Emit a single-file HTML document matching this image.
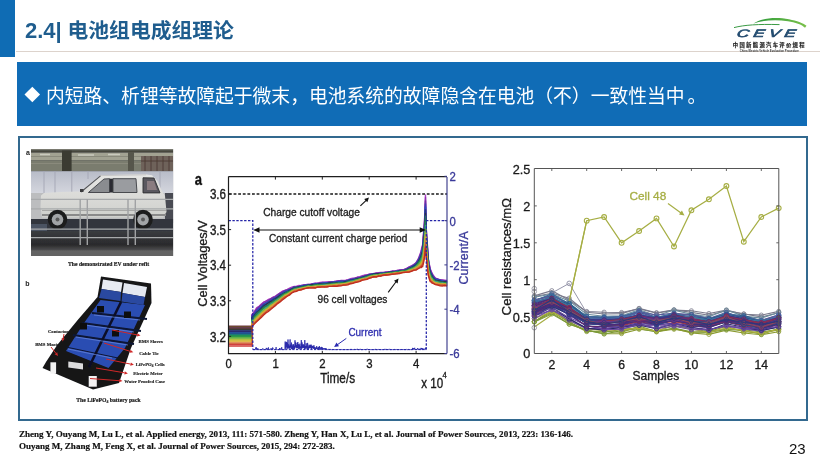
<!DOCTYPE html>
<html><head><meta charset="utf-8">
<style>
*{margin:0;padding:0;box-sizing:border-box}
html,body{width:820px;height:461px;overflow:hidden;background:#fff}
body{position:relative;font-family:"Liberation Sans","Noto Sans CJK SC",sans-serif}
.abs{position:absolute}
#lbar{left:0;top:0;width:15px;height:57px;background:#0f6cb4}
#hline{left:16px;top:51px;width:804px;height:1px;background:#ddd3cc}
#title{left:25px;top:16px;font-size:20.8px;font-weight:bold;color:#1f5d8e;white-space:nowrap;line-height:30px;font-family:"Liberation Sans","Noto Sans CJK SC",sans-serif}
#title .n{font-size:22px}
#band{left:17px;top:62px;width:790px;height:64px;background:#106cb6}
#dia{left:27px;top:89.2px;width:10.6px;height:10.6px;background:#fff;transform:rotate(45deg)}
#bandtxt{left:46px;top:83px;font-size:18.8px;color:#fff;white-space:nowrap;line-height:28px;font-family:"Liberation Sans","Noto Sans CJK SC",sans-serif}
#box{left:18px;top:136.4px;width:790px;height:284.6px;border:2px solid #33698f;background:#fff}
#cite{left:19px;top:429px;font-family:"Liberation Serif",serif;font-weight:bold;font-size:9.05px;line-height:11.8px;color:#111;white-space:nowrap;-webkit-text-stroke:0.2px #111}
#pnum{left:789px;top:440.5px;font-size:15px;color:#111;line-height:16px}
svg{position:absolute;left:0;top:0}
svg{font-family:"Liberation Sans",sans-serif}
</style></head>
<body>
<div class="abs" id="lbar"></div>
<div class="abs" id="hline"></div>
<div class="abs" id="title"><span class="n">2.4|</span> 电池组电成组理论</div>
<div class="abs" id="band"></div>
<div class="abs" id="dia"></div>
<div class="abs" id="bandtxt">内短路、析锂等故障起于微末，电池系统的故障隐含在电池（不）一致性当中<span style="position:relative;left:3px">。</span></div>
<div class="abs" id="box"></div>
<svg width="820" height="461" viewBox="0 0 820 461">
<defs>
<linearGradient id="lg1" x1="0" y1="0" x2="1" y2="0"><stop offset="0" stop-color="#2a9a3a"/><stop offset="1" stop-color="#7ac04a"/></linearGradient>
<linearGradient id="lg2" x1="0" y1="0" x2="0" y2="1"><stop offset="0" stop-color="#2a6a8a"/><stop offset="1" stop-color="#1a3a6a"/></linearGradient>
</defs>
<path d="M734 27.6 C744 25 758 24 779.5 24.6" stroke="#3a9a44" stroke-width="1" fill="none"/>
<path d="M753.5 23.5 C761 18.5 775 16.2 789 19.3 C797 21 803 23 806.5 25.8 C806 26.5 805.5 27.2 805 27.8 C802 24.5 795 22.3 788 21.2 C776 19.5 764 20 753.5 23.5 Z" fill="url(#lg1)"/>
<text transform="translate(736.3 36.9) skewX(-12) scale(1.58 1)" font-family="Liberation Sans, sans-serif" font-style="italic" font-weight="normal" font-size="10.8" letter-spacing="2.6" fill="url(#lg2)" stroke="#234a6c" stroke-width="0.6">CEVE</text>
<text x="732.8" y="46.7" font-family="Liberation Sans, Noto Sans CJK SC, sans-serif" font-weight="bold" font-size="5.3" letter-spacing="1.35" fill="#1a1a1a" stroke="#1a1a1a" stroke-width="0.15">中国新能源汽车评价规程</text>
<text x="739.8" y="51.6" font-family="Liberation Sans, sans-serif" font-weight="bold" font-size="2.7" fill="#333" textLength="59" lengthAdjust="spacingAndGlyphs">China Electric Vehicle Evaluation Procedure</text>

<defs>
<filter id="bl1" x="-5%" y="-5%" width="110%" height="110%"><feGaussianBlur stdDeviation="0.6"/></filter>
<clipPath id="carclip"><rect x="31" y="149" width="142.3" height="107"/></clipPath>
<linearGradient id="ceil" x1="0" y1="0" x2="0" y2="1"><stop offset="0" stop-color="#55554a"/><stop offset="0.35" stop-color="#9a9a8c"/><stop offset="0.6" stop-color="#6a6a5e"/><stop offset="1" stop-color="#7e8078"/></linearGradient>
<linearGradient id="wall" x1="0" y1="0" x2="0" y2="1"><stop offset="0" stop-color="#b8bcc8"/><stop offset="1" stop-color="#d4d6de"/></linearGradient>
<linearGradient id="floor" x1="0" y1="0" x2="0" y2="1"><stop offset="0" stop-color="#3a3c40"/><stop offset="0.7" stop-color="#2a2a2c"/><stop offset="1" stop-color="#555"/></linearGradient>
<linearGradient id="body" x1="0" y1="0" x2="0" y2="1"><stop offset="0" stop-color="#e6e6e4"/><stop offset="1" stop-color="#cfd0cc"/></linearGradient>
</defs>
<g clip-path="url(#carclip)" filter="url(#bl1)">
<rect x="31" y="149" width="142.3" height="107" fill="#34373c"/>
<rect x="31" y="149" width="142.3" height="1.6" fill="#7a7a70"/>
<rect x="31" y="150.6" width="142.3" height="2" fill="#46463e"/>
<rect x="31" y="152.6" width="142.3" height="7.6" fill="#a2a292"/>
<rect x="31" y="160.2" width="142.3" height="11" fill="#7a7c6e"/>
<path d="M31 156.5 H173 M31 163.5 H173" stroke="#8a8a7c" stroke-width="1"/>
<path d="M40 154.5 h10 M78 155 h16 M108 154.5 h12" stroke="#cacabe" stroke-width="1.4"/>
<rect x="62" y="150.5" width="9.6" height="20.7" fill="#3a3a32"/>
<rect x="128" y="152" width="6" height="19" fill="#56564c"/>
<rect x="141" y="156" width="32" height="15.2" fill="#6e625a"/>
<path d="M145 156v15M151 156v15M157 156v15M163 156v15M169 156v15M141 161h32" stroke="#4a3a34" stroke-width="0.9"/>
<rect x="31" y="171.2" width="142.3" height="22" fill="url(#wall)"/>
<path d="M44 171v22M55 171v22M71.8 171v22M88 171v8M160 171v22" stroke="#a4a6b4" stroke-width="0.9"/>
<rect x="31" y="193" width="142.3" height="26" fill="#bcbdbf"/>
<rect x="165" y="193" width="8.3" height="30" fill="#4a4c52"/>
<rect x="31" y="219" width="142.3" height="12" fill="#33363c"/>
<rect x="31" y="224" width="16" height="16" fill="#4c5262"/>
<rect x="31" y="231" width="142.3" height="20" fill="url(#floor)"/>
<rect x="31" y="250.5" width="142.3" height="5.5" fill="#646464"/>
<!-- car body -->
<path d="M41 195.5 L44 193 L60 192 L80 191.5 L100.5 175.2 L145 174.3 L152 175.2 L157.5 181 L161.5 190 L165 196 L166.5 212 L163 217.5 L42 217.5 L40.5 207 Z" fill="url(#body)"/>
<path d="M100 175.6 L146 174.8" stroke="#c8c8c8" stroke-width="1"/>
<path d="M81 192 L100.5 175.8" stroke="#505258" stroke-width="1.1"/>
<path d="M88.4 192.5 L104 179 L109.6 178.7 L109.6 192.5 Z" fill="#8a8c90" stroke="#3c3e44" stroke-width="0.9"/>
<rect x="109.6" y="178.7" width="3.4" height="13.8" fill="#2c2c30"/>
<path d="M113 178.7 L136 178.7 L137 192.5 L113 192.5 Z" fill="#9a9ca0" stroke="#3c3e44" stroke-width="0.9"/>
<path d="M143 177.8 L154 178 L160 192.9 L143 192.9 Z" fill="#5a585e" stroke="#2c2c30" stroke-width="0.9"/>
<path d="M147 181 L154 181 L157 190 L147 190 Z" fill="#8a7c80"/>
<rect x="80" y="189" width="3.5" height="3" fill="#3a3a3e"/>
<path d="M42 210.5 L166 210.5" stroke="#a8a8a6" stroke-width="1.2"/>
<path d="M42 215 L166 215" stroke="#8a8a8a" stroke-width="2.2"/>
<!-- wheels -->
<circle cx="57.5" cy="219.6" r="9.8" fill="#1c1c1e"/>
<circle cx="57.5" cy="219.6" r="5.8" fill="#a2a4a6"/>
<circle cx="57.5" cy="219.6" r="2" fill="#5a5a5a"/>
<circle cx="143" cy="219.6" r="9.8" fill="#1c1c1e"/>
<circle cx="143" cy="219.6" r="5.8" fill="#a2a4a6"/>
<circle cx="143" cy="219.6" r="2" fill="#5a5a5a"/>
<!-- railing -->
<path d="M31 199.3 H173.3 M31 208.9 H173.3 M31 229.2 H173.3 M31 237.6 H173.3" stroke="#a8aaac" stroke-width="1.2"/>
<path d="M80.2 199 V245 M87.3 199 V245 M128 199 V245 M135.3 199 V245" stroke="#a0a2a4" stroke-width="1.4"/>
</g>
<text x="108.6" y="266" font-family="Liberation Serif, serif" font-weight="bold" font-size="5.7" text-anchor="middle" fill="#1a1a1a" stroke="#1a1a1a" stroke-width="0.18">The demonstrated EV under refit</text>
<text x="26" y="154.9" font-family="Liberation Sans, sans-serif" font-weight="bold" font-size="7" fill="#222">a</text>
<text x="25.2" y="285.8" font-family="Liberation Sans, sans-serif" font-weight="bold" font-size="7" fill="#222">b</text>
<!-- battery pack -->
<g filter="url(#bl1)">
<path d="M101 276.5 L151 283.5 L151.5 303 L131 348 L119 383 L93 389.5 L42.5 368 L46 362 L57.2 345 L77.7 320 L97.5 297 Z" fill="#141519"/>
<path d="M100.5 300 L145 305 L125 348 L108.5 368 L66 351 L84 323 Z" fill="#2c4eb2"/>
<path d="M103 279.5 L122.5 282.5 L121 292 L101.5 289 Z" fill="#e8ebf2"/>
<path d="M124 283 L147 287 L145 297 L122.5 293 Z" fill="#e4e8f0"/>
<path d="M101.5 289 L121 292 L120.5 301 L99 298 Z M122.5 293 L145 297 L143.5 305 L121.5 301.5 Z" fill="#2a48a0"/>
<path d="M92 313 L147 319 M82 323 L141 331 M73 335 L134 344" stroke="#0e1634" stroke-width="1.8"/>
<path d="M66 347 L118 358" stroke="#0e1634" stroke-width="1"/>
<path d="M121 302 L89 367" stroke="#0a1028" stroke-width="2.6"/>
<path d="M94 315 L140 320 M85 325 L134 332 M76 337 L128 345 M68 349 L112 358" stroke="#6a8ae0" stroke-width="0.7"/>
<rect x="97" y="306" width="7" height="6.5" fill="#0e0e10"/>
<rect x="124" y="311.5" width="7" height="6.5" fill="#0e0e10"/>
<rect x="80" y="323" width="7" height="6.5" fill="#0e0e10"/>
<rect x="112" y="330" width="7" height="6.5" fill="#0e0e10"/>
<path d="M50.4 362.3 L56.1 362.3 L56.1 373.7 L50.4 373.7 Z" fill="#f2f2f2"/>
<path d="M88.7 376 L96.8 376 L96.8 386.7 L88.7 386.7 Z" fill="#f2f2f2"/>
<path d="M68.3 361.5 L83 363.5 L83 369.6 L68.3 367.6 Z" fill="#dcdcdc"/>
</g>
<g stroke="#d02828" stroke-width="1" fill="none"><line x1="64.0" y1="334.0" x2="63.2" y2="338.2"/><path d="M62.5 341.5 L61.6 337.9 L64.7 338.5 Z" fill="#d02828" stroke="none"/><line x1="51.0" y1="347.0" x2="55.9" y2="353.3"/><path d="M58.0 356.0 L54.6 354.3 L57.2 352.3 Z" fill="#d02828" stroke="none"/><line x1="112.0" y1="330.0" x2="137.2" y2="334.9"/><path d="M140.5 335.5 L136.9 336.4 L137.5 333.3 Z" fill="#d02828" stroke="none"/><line x1="104.0" y1="343.0" x2="130.1" y2="351.3"/><path d="M133.3 352.3 L129.6 352.8 L130.5 349.7 Z" fill="#d02828" stroke="none"/><line x1="106.0" y1="359.0" x2="130.6" y2="364.1"/><path d="M133.9 364.8 L130.2 365.7 L130.9 362.5 Z" fill="#d02828" stroke="none"/><line x1="96.0" y1="368.0" x2="124.5" y2="372.8"/><path d="M127.9 373.4 L124.3 374.4 L124.8 371.3 Z" fill="#d02828" stroke="none"/><line x1="90.0" y1="378.5" x2="119.1" y2="380.7"/><path d="M122.5 381.0 L119.0 382.3 L119.2 379.1 Z" fill="#d02828" stroke="none"/></g>
<g font-family="Liberation Serif, serif" font-weight="bold" font-size="4.75" fill="#1a1a1a" stroke="#1a1a1a" stroke-width="0.15">
<text x="47.9" y="332.9">Contactor</text>
<text x="35.2" y="345.6">BMS Master</text>
<text x="138.6" y="343.2">BMS Slaves</text>
<text x="139.2" y="354.5">Cable Tie</text>
<text x="135.7" y="366.4">LiFePO<tspan font-size="3.4" dy="0.9">4</tspan><tspan dy="-0.9"> Cells</tspan></text>
<text x="133.3" y="374.8">Electric Meter</text>
<text x="124.3" y="382.6">Water Proofed Case</text>
</g>
<text x="108.5" y="401.6" font-family="Liberation Serif, serif" font-weight="bold" font-size="5.7" text-anchor="middle" fill="#1a1a1a" stroke="#1a1a1a" stroke-width="0.18">The LiFePO<tspan font-size="3.8" dy="1">4</tspan><tspan dy="-1"> battery pack</tspan></text>

<g>
<path d="M228.5 326.4 L251.9 326.4 L251.9 314.5 L254.3 311.4 L256.6 307.8 L259.0 306.3 L261.3 303.9 L263.7 302.0 L266.0 301.0 L268.4 299.4 L270.7 298.5 L273.1 297.0 L275.4 296.0 L277.7 294.6 L280.1 292.9 L282.4 291.2 L284.8 290.4 L287.1 289.5 L289.5 288.2 L291.8 287.1 L294.2 286.5 L296.5 286.2 L298.9 285.3 L301.2 285.7 L303.5 284.6 L305.9 284.7 L308.2 284.4 L310.6 284.1 L312.9 283.6 L315.3 282.9 L317.6 283.2 L320.0 282.5 L322.3 282.2 L324.6 282.2 L327.0 281.8 L329.3 282.0 L331.7 281.8 L334.0 281.5 L336.4 280.9 L338.7 280.9 L341.1 280.7 L343.4 280.3 L345.8 280.2 L348.1 279.7 L350.4 278.7 L352.8 278.2 L355.1 278.0 L357.5 277.1 L359.8 276.6 L362.2 275.7 L364.5 275.2 L366.9 275.0 L369.2 273.8 L371.5 274.0 L373.9 273.3 L376.2 272.8 L378.6 273.1 L380.9 272.6 L383.3 272.7 L385.6 271.9 L388.0 271.6 L390.3 271.5 L392.6 270.9 L395.0 271.0 L397.3 270.3 L399.7 270.0 L402.0 269.7 L404.4 269.4 L406.7 268.3 L409.1 266.9 L411.4 265.9 L413.8 264.4 L416.1 262.7 L418.4 258.4 L420.8 252.0 L421.3 249.6 L421.7 247.7 L422.2 246.1 L422.7 243.9 L423.1 237.5 L423.6 231.8 L424.1 225.2 L424.5 219.2 L425.0 206.8 L425.5 194.4 L425.9 211.6 L426.4 229.9 L426.9 236.9 L427.4 243.9 L427.8 250.6 L428.3 258.4 L428.8 260.8 L429.2 263.4 L429.7 265.8 L430.2 268.5 L430.6 269.5 L431.1 271.1 L431.6 272.0 L432.0 273.2 L432.5 273.8 L433.0 274.8 L435.3 278.1 L437.7 279.0 L440.0 279.7 L442.4 280.1 L444.7 280.2 L447.1 280.4" stroke="#b040c8" stroke-width="1.3" fill="none"/>
<path d="M228.5 327.6 L251.9 327.6 L251.9 315.2 L254.3 312.3 L256.6 308.8 L259.0 306.8 L261.3 304.6 L263.7 302.3 L266.0 301.2 L268.4 300.1 L270.7 298.7 L273.1 297.4 L275.4 296.6 L277.7 294.5 L280.1 293.1 L282.4 291.7 L284.8 290.3 L287.1 289.7 L289.5 288.8 L291.8 288.1 L294.2 286.7 L296.5 286.8 L298.9 286.4 L301.2 285.8 L303.5 285.4 L305.9 284.9 L308.2 284.7 L310.6 284.4 L312.9 284.0 L315.3 283.8 L317.6 283.3 L320.0 283.3 L322.3 282.3 L324.6 282.3 L327.0 282.5 L329.3 282.2 L331.7 281.9 L334.0 281.6 L336.4 281.6 L338.7 280.8 L341.1 280.5 L343.4 280.7 L345.8 280.5 L348.1 280.2 L350.4 279.6 L352.8 278.8 L355.1 278.3 L357.5 277.2 L359.8 277.2 L362.2 276.7 L364.5 275.3 L366.9 275.0 L369.2 274.8 L371.5 273.8 L373.9 273.9 L376.2 273.2 L378.6 272.6 L380.9 272.4 L383.3 272.3 L385.6 272.4 L388.0 272.1 L390.3 272.0 L392.6 271.2 L395.0 271.0 L397.3 270.4 L399.7 270.4 L402.0 270.2 L404.4 269.3 L406.7 268.4 L409.1 267.2 L411.4 266.0 L413.8 264.7 L416.1 262.5 L418.4 259.4 L420.8 253.0 L421.3 251.2 L421.7 249.5 L422.2 247.5 L422.7 245.3 L423.1 239.4 L423.6 233.0 L424.1 226.8 L424.5 221.3 L425.0 208.8 L425.5 196.7 L425.9 213.8 L426.4 231.4 L426.9 238.5 L427.4 245.4 L427.8 252.4 L428.3 259.4 L428.8 261.6 L429.2 264.0 L429.7 266.6 L430.2 269.5 L430.6 270.4 L431.1 271.3 L431.6 272.9 L432.0 273.5 L432.5 274.3 L433.0 275.4 L435.3 278.0 L437.7 279.1 L440.0 280.1 L442.4 279.9 L444.7 280.6 L447.1 280.6" stroke="#9030b0" stroke-width="1.3" fill="none"/>
<path d="M228.5 328.7 L251.9 328.7 L251.9 315.3 L254.3 312.8 L256.6 309.7 L259.0 307.2 L261.3 305.3 L263.7 303.7 L266.0 302.4 L268.4 301.1 L270.7 299.1 L273.1 297.9 L275.4 297.1 L277.7 295.1 L280.1 293.5 L282.4 292.3 L284.8 291.2 L287.1 290.0 L289.5 289.4 L291.8 288.5 L294.2 286.7 L296.5 286.6 L298.9 286.3 L301.2 285.5 L303.5 285.5 L305.9 284.6 L308.2 284.3 L310.6 284.5 L312.9 284.2 L315.3 283.9 L317.6 283.6 L320.0 283.1 L322.3 283.1 L324.6 282.7 L327.0 282.8 L329.3 281.9 L331.7 282.1 L334.0 281.8 L336.4 281.5 L338.7 281.0 L341.1 281.2 L343.4 280.6 L345.8 280.7 L348.1 280.1 L350.4 279.5 L352.8 279.3 L355.1 278.4 L357.5 278.0 L359.8 277.6 L362.2 276.3 L364.5 276.2 L366.9 275.3 L369.2 274.5 L371.5 274.0 L373.9 273.8 L376.2 273.4 L378.6 273.2 L380.9 272.7 L383.3 273.0 L385.6 272.4 L388.0 272.4 L390.3 272.1 L392.6 271.4 L395.0 271.2 L397.3 270.8 L399.7 270.3 L402.0 269.8 L404.4 269.8 L406.7 268.9 L409.1 267.8 L411.4 266.5 L413.8 265.1 L416.1 263.2 L418.4 259.7 L420.8 254.0 L421.3 251.7 L421.7 250.0 L422.2 248.0 L422.7 246.1 L423.1 240.9 L423.6 235.0 L424.1 228.9 L424.5 223.2 L425.0 212.2 L425.5 200.6 L425.9 216.7 L426.4 233.3 L426.9 240.0 L427.4 246.9 L427.8 253.2 L428.3 259.9 L428.8 262.3 L429.2 265.5 L429.7 267.5 L430.2 270.1 L430.6 271.5 L431.1 271.9 L431.6 272.8 L432.0 274.4 L432.5 274.8 L433.0 276.2 L435.3 278.7 L437.7 279.1 L440.0 279.9 L442.4 280.8 L444.7 280.9 L447.1 281.1" stroke="#7030a0" stroke-width="1.3" fill="none"/>
<path d="M228.5 329.9 L251.9 329.9 L251.9 316.6 L254.3 313.7 L256.6 310.6 L259.0 308.2 L261.3 306.7 L263.7 304.1 L266.0 302.9 L268.4 301.9 L270.7 300.3 L273.1 298.6 L275.4 297.3 L277.7 296.3 L280.1 294.0 L282.4 292.7 L284.8 291.1 L287.1 290.8 L289.5 289.7 L291.8 288.8 L294.2 287.2 L296.5 287.2 L298.9 286.9 L301.2 286.2 L303.5 285.3 L305.9 284.9 L308.2 285.0 L310.6 284.8 L312.9 283.9 L315.3 283.9 L317.6 283.5 L320.0 283.8 L322.3 283.5 L324.6 282.8 L327.0 282.8 L329.3 282.9 L331.7 281.9 L334.0 282.0 L336.4 281.6 L338.7 282.0 L341.1 281.2 L343.4 281.6 L345.8 280.7 L348.1 280.5 L350.4 280.0 L352.8 279.2 L355.1 278.3 L357.5 278.2 L359.8 277.7 L362.2 276.8 L364.5 276.4 L366.9 275.9 L369.2 275.2 L371.5 274.7 L373.9 274.2 L376.2 273.8 L378.6 273.6 L380.9 272.9 L383.3 273.1 L385.6 272.6 L388.0 272.6 L390.3 272.2 L392.6 272.2 L395.0 271.6 L397.3 271.5 L399.7 270.5 L402.0 270.3 L404.4 270.2 L406.7 269.3 L409.1 267.7 L411.4 267.2 L413.8 265.4 L416.1 263.7 L418.4 260.3 L420.8 254.6 L421.3 253.2 L421.7 251.3 L422.2 249.4 L422.7 247.4 L423.1 242.4 L423.6 236.5 L424.1 231.1 L424.5 225.7 L425.0 214.7 L425.5 203.6 L425.9 219.4 L426.4 234.9 L426.9 241.6 L427.4 247.7 L427.8 254.8 L428.3 261.5 L428.8 264.0 L429.2 265.8 L429.7 268.2 L430.2 270.8 L430.6 272.1 L431.1 273.1 L431.6 274.0 L432.0 274.8 L432.5 276.0 L433.0 276.7 L435.3 279.2 L437.7 279.5 L440.0 280.2 L442.4 280.8 L444.7 281.4 L447.1 281.1" stroke="#4040b0" stroke-width="1.3" fill="none"/>
<path d="M228.5 331.0 L251.9 331.0 L251.9 317.3 L254.3 314.3 L256.6 311.7 L259.0 309.3 L261.3 307.1 L263.7 305.0 L266.0 303.8 L268.4 302.2 L270.7 301.2 L273.1 299.6 L275.4 298.3 L277.7 296.5 L280.1 295.3 L282.4 293.9 L284.8 292.1 L287.1 291.1 L289.5 289.8 L291.8 288.8 L294.2 287.5 L296.5 287.1 L298.9 286.6 L301.2 286.0 L303.5 286.0 L305.9 285.6 L308.2 284.6 L310.6 285.0 L312.9 284.3 L315.3 284.1 L317.6 284.4 L320.0 283.4 L322.3 283.1 L324.6 283.1 L327.0 282.8 L329.3 282.6 L331.7 282.9 L334.0 282.4 L336.4 282.2 L338.7 281.7 L341.1 281.5 L343.4 281.3 L345.8 281.3 L348.1 280.4 L350.4 280.0 L352.8 279.3 L355.1 279.1 L357.5 278.7 L359.8 278.0 L362.2 277.2 L364.5 276.8 L366.9 275.5 L369.2 275.1 L371.5 274.4 L373.9 274.0 L376.2 273.7 L378.6 273.6 L380.9 273.8 L383.3 272.8 L385.6 272.6 L388.0 272.5 L390.3 272.2 L392.6 271.8 L395.0 271.9 L397.3 271.0 L399.7 271.1 L402.0 270.9 L404.4 270.4 L406.7 269.3 L409.1 268.6 L411.4 266.9 L413.8 265.6 L416.1 264.0 L418.4 261.0 L420.8 255.8 L421.3 253.9 L421.7 252.2 L422.2 250.7 L422.7 249.0 L423.1 244.2 L423.6 238.9 L424.1 233.6 L424.5 227.9 L425.0 217.5 L425.5 206.5 L425.9 221.8 L426.4 236.7 L426.9 243.0 L427.4 249.1 L427.8 255.6 L428.3 262.1 L428.8 264.8 L429.2 267.0 L429.7 269.4 L430.2 271.7 L430.6 272.9 L431.1 273.2 L431.6 274.7 L432.0 274.9 L432.5 275.9 L433.0 277.6 L435.3 279.5 L437.7 280.0 L440.0 280.5 L442.4 281.2 L444.7 281.7 L447.1 282.0" stroke="#2050c0" stroke-width="1.3" fill="none"/>
<path d="M228.5 332.2 L251.9 332.2 L251.9 317.5 L254.3 315.2 L256.6 312.0 L259.0 310.3 L261.3 307.8 L263.7 305.4 L266.0 304.6 L268.4 302.6 L270.7 301.4 L273.1 299.6 L275.4 298.3 L277.7 297.2 L280.1 295.1 L282.4 294.0 L284.8 292.8 L287.1 291.7 L289.5 290.2 L291.8 289.2 L294.2 288.2 L296.5 287.9 L298.9 287.2 L301.2 286.8 L303.5 285.9 L305.9 286.1 L308.2 285.0 L310.6 284.7 L312.9 285.1 L315.3 284.1 L317.6 284.1 L320.0 283.7 L322.3 283.9 L324.6 283.6 L327.0 283.4 L329.3 282.7 L331.7 282.8 L334.0 282.8 L336.4 282.5 L338.7 282.5 L341.1 282.4 L343.4 282.2 L345.8 281.3 L348.1 281.2 L350.4 280.0 L352.8 280.0 L355.1 279.4 L357.5 278.6 L359.8 278.2 L362.2 277.4 L364.5 276.3 L366.9 275.7 L369.2 275.2 L371.5 274.7 L373.9 274.0 L376.2 273.7 L378.6 273.8 L380.9 273.4 L383.3 273.6 L385.6 272.8 L388.0 272.7 L390.3 272.2 L392.6 272.0 L395.0 271.9 L397.3 271.8 L399.7 270.7 L402.0 271.0 L404.4 270.4 L406.7 269.8 L409.1 268.8 L411.4 267.3 L413.8 265.9 L416.1 264.7 L418.4 261.4 L420.8 256.8 L421.3 255.0 L421.7 253.6 L422.2 252.3 L422.7 250.7 L423.1 245.7 L423.6 240.1 L424.1 235.4 L424.5 230.7 L425.0 219.7 L425.5 209.3 L425.9 223.9 L426.4 238.3 L426.9 244.6 L427.4 251.0 L427.8 257.1 L428.3 263.7 L428.8 265.8 L429.2 268.1 L429.7 270.1 L430.2 272.1 L430.6 273.1 L431.1 274.2 L431.6 275.1 L432.0 275.9 L432.5 276.9 L433.0 277.8 L435.3 280.2 L437.7 280.8 L440.0 280.9 L442.4 281.9 L444.7 281.8 L447.1 282.0" stroke="#203a80" stroke-width="1.3" fill="none"/>
<path d="M228.5 333.3 L251.9 333.3 L251.9 318.3 L254.3 316.0 L256.6 313.1 L259.0 311.0 L261.3 308.7 L263.7 306.6 L266.0 304.6 L268.4 303.3 L270.7 301.7 L273.1 301.0 L275.4 299.5 L277.7 297.3 L280.1 295.6 L282.4 294.5 L284.8 292.8 L287.1 292.2 L289.5 290.7 L291.8 289.1 L294.2 288.0 L296.5 287.5 L298.9 287.0 L301.2 287.1 L303.5 286.7 L305.9 286.2 L308.2 285.4 L310.6 285.1 L312.9 284.6 L315.3 284.6 L317.6 284.4 L320.0 284.1 L322.3 284.1 L324.6 283.8 L327.0 284.0 L329.3 283.2 L331.7 283.4 L334.0 282.6 L336.4 282.6 L338.7 282.7 L341.1 282.7 L343.4 282.3 L345.8 281.8 L348.1 281.1 L350.4 281.0 L352.8 280.4 L355.1 279.4 L357.5 278.8 L359.8 278.3 L362.2 277.8 L364.5 276.9 L366.9 276.7 L369.2 275.8 L371.5 275.1 L373.9 274.2 L376.2 274.2 L378.6 273.7 L380.9 273.8 L383.3 273.7 L385.6 273.4 L388.0 272.5 L390.3 272.4 L392.6 272.4 L395.0 272.3 L397.3 271.6 L399.7 271.1 L402.0 271.0 L404.4 270.8 L406.7 269.8 L409.1 268.5 L411.4 268.0 L413.8 267.1 L416.1 265.1 L418.4 262.2 L420.8 257.4 L421.3 256.4 L421.7 254.4 L422.2 253.0 L422.7 251.8 L423.1 247.3 L423.6 241.8 L424.1 237.7 L424.5 232.5 L425.0 223.0 L425.5 213.1 L425.9 226.0 L426.4 239.8 L426.9 245.4 L427.4 252.0 L427.8 258.5 L428.3 264.6 L428.8 266.6 L429.2 268.6 L429.7 270.6 L430.2 273.5 L430.6 274.1 L431.1 275.1 L431.6 275.2 L432.0 276.8 L432.5 277.7 L433.0 278.5 L435.3 280.3 L437.7 280.6 L440.0 281.3 L442.4 281.7 L444.7 281.7 L447.1 282.0" stroke="#303048" stroke-width="1.3" fill="none"/>
<path d="M228.5 334.5 L251.9 334.5 L251.9 319.5 L254.3 316.8 L256.6 313.4 L259.0 311.4 L261.3 309.9 L263.7 307.2 L266.0 305.9 L268.4 304.3 L270.7 302.9 L273.1 301.5 L275.4 300.1 L277.7 298.3 L280.1 296.6 L282.4 294.5 L284.8 293.7 L287.1 291.8 L289.5 291.2 L291.8 289.9 L294.2 288.3 L296.5 287.8 L298.9 287.7 L301.2 287.5 L303.5 286.7 L305.9 286.3 L308.2 285.3 L310.6 285.7 L312.9 285.3 L315.3 284.7 L317.6 285.2 L320.0 284.6 L322.3 284.1 L324.6 283.9 L327.0 284.3 L329.3 284.1 L331.7 283.9 L334.0 282.9 L336.4 283.3 L338.7 282.6 L341.1 282.3 L343.4 282.6 L345.8 282.4 L348.1 281.2 L350.4 280.9 L352.8 280.6 L355.1 279.5 L357.5 279.3 L359.8 278.7 L362.2 278.3 L364.5 277.0 L366.9 276.2 L369.2 275.8 L371.5 274.9 L373.9 275.2 L376.2 274.8 L378.6 274.3 L380.9 273.5 L383.3 273.3 L385.6 273.4 L388.0 273.2 L390.3 272.8 L392.6 272.4 L395.0 271.7 L397.3 272.0 L399.7 271.2 L402.0 270.9 L404.4 270.5 L406.7 269.9 L409.1 269.0 L411.4 268.2 L413.8 267.2 L416.1 265.5 L418.4 262.5 L420.8 258.8 L421.3 257.4 L421.7 255.5 L422.2 254.6 L422.7 253.4 L423.1 249.0 L423.6 244.0 L424.1 239.7 L424.5 234.6 L425.0 225.2 L425.5 215.6 L425.9 228.9 L426.4 241.7 L426.9 247.7 L427.4 253.4 L427.8 259.2 L428.3 265.5 L428.8 267.8 L429.2 269.7 L429.7 271.7 L430.2 273.7 L430.6 274.5 L431.1 275.2 L431.6 276.1 L432.0 277.4 L432.5 277.6 L433.0 278.8 L435.3 280.6 L437.7 281.5 L440.0 281.8 L442.4 282.5 L444.7 282.7 L447.1 282.9" stroke="#2a6a6a" stroke-width="1.3" fill="none"/>
<path d="M228.5 335.6 L251.9 335.6 L251.9 320.3 L254.3 317.0 L256.6 314.6 L259.0 312.6 L261.3 310.3 L263.7 307.6 L266.0 306.5 L268.4 305.2 L270.7 303.1 L273.1 301.7 L275.4 299.8 L277.7 299.0 L280.1 297.0 L282.4 295.1 L284.8 293.5 L287.1 292.2 L289.5 291.7 L291.8 290.3 L294.2 289.2 L296.5 288.7 L298.9 287.5 L301.2 287.3 L303.5 286.5 L305.9 286.5 L308.2 285.6 L310.6 285.7 L312.9 285.7 L315.3 285.0 L317.6 284.7 L320.0 285.2 L322.3 284.6 L324.6 284.3 L327.0 284.4 L329.3 284.1 L331.7 284.1 L334.0 283.8 L336.4 283.6 L338.7 283.1 L341.1 282.8 L343.4 283.0 L345.8 282.9 L348.1 282.0 L350.4 281.1 L352.8 280.9 L355.1 280.2 L357.5 279.6 L359.8 278.5 L362.2 278.1 L364.5 277.8 L366.9 277.1 L369.2 276.2 L371.5 275.5 L373.9 274.9 L376.2 275.1 L378.6 274.7 L380.9 274.0 L383.3 273.9 L385.6 273.7 L388.0 273.4 L390.3 272.5 L392.6 272.8 L395.0 272.2 L397.3 272.1 L399.7 271.7 L402.0 271.0 L404.4 270.6 L406.7 270.5 L409.1 269.7 L411.4 268.2 L413.8 267.6 L416.1 266.2 L418.4 263.0 L420.8 259.4 L421.3 257.8 L421.7 257.0 L422.2 255.3 L422.7 254.4 L423.1 250.4 L423.6 246.3 L424.1 241.6 L424.5 237.2 L425.0 227.9 L425.5 219.5 L425.9 231.0 L426.4 243.1 L426.9 248.9 L427.4 255.0 L427.8 260.8 L428.3 266.4 L428.8 268.1 L429.2 270.9 L429.7 272.6 L430.2 274.4 L430.6 275.0 L431.1 276.4 L431.6 277.2 L432.0 277.3 L432.5 278.0 L433.0 279.2 L435.3 281.4 L437.7 281.4 L440.0 282.4 L442.4 282.2 L444.7 282.7 L447.1 282.7" stroke="#208050" stroke-width="1.3" fill="none"/>
<path d="M228.5 336.8 L251.9 336.8 L251.9 321.0 L254.3 317.9 L256.6 315.7 L259.0 313.3 L261.3 310.8 L263.7 308.6 L266.0 307.5 L268.4 305.9 L270.7 304.1 L273.1 302.4 L275.4 300.9 L277.7 299.5 L280.1 297.7 L282.4 295.7 L284.8 293.9 L287.1 293.4 L289.5 291.7 L291.8 290.2 L294.2 289.6 L296.5 288.4 L298.9 288.5 L301.2 287.6 L303.5 287.1 L305.9 286.5 L308.2 286.3 L310.6 286.0 L312.9 285.7 L315.3 285.6 L317.6 285.2 L320.0 285.2 L322.3 285.0 L324.6 285.1 L327.0 284.4 L329.3 284.3 L331.7 284.3 L334.0 283.6 L336.4 283.4 L338.7 283.5 L341.1 283.5 L343.4 283.0 L345.8 283.1 L348.1 282.5 L350.4 281.6 L352.8 281.3 L355.1 280.3 L357.5 279.7 L359.8 279.4 L362.2 278.3 L364.5 278.1 L366.9 276.9 L369.2 276.2 L371.5 275.7 L373.9 275.7 L376.2 275.0 L378.6 274.7 L380.9 273.9 L383.3 274.3 L385.6 273.4 L388.0 273.0 L390.3 272.9 L392.6 272.5 L395.0 272.7 L397.3 271.7 L399.7 271.8 L402.0 271.1 L404.4 270.8 L406.7 270.9 L409.1 269.4 L411.4 268.3 L413.8 268.1 L416.1 266.4 L418.4 263.7 L420.8 260.5 L421.3 258.8 L421.7 258.2 L422.2 256.6 L422.7 256.0 L423.1 251.7 L423.6 247.3 L424.1 243.9 L424.5 239.9 L425.0 231.0 L425.5 222.4 L425.9 233.9 L426.4 244.9 L426.9 250.7 L427.4 255.7 L427.8 261.6 L428.3 267.2 L428.8 269.7 L429.2 271.2 L429.7 273.7 L430.2 275.3 L430.6 276.0 L431.1 276.9 L431.6 277.2 L432.0 278.2 L432.5 278.9 L433.0 279.3 L435.3 281.8 L437.7 281.7 L440.0 282.6 L442.4 283.0 L444.7 282.9 L447.1 283.5" stroke="#2a9a40" stroke-width="1.3" fill="none"/>
<path d="M228.5 337.9 L251.9 337.9 L251.9 321.0 L254.3 318.8 L256.6 316.4 L259.0 313.8 L261.3 311.9 L263.7 309.9 L266.0 307.8 L268.4 306.7 L270.7 304.4 L273.1 303.2 L275.4 301.3 L277.7 299.3 L280.1 298.0 L282.4 296.2 L284.8 294.9 L287.1 293.8 L289.5 292.5 L291.8 291.1 L294.2 289.4 L296.5 289.0 L298.9 288.4 L301.2 287.6 L303.5 287.7 L305.9 287.1 L308.2 286.2 L310.6 286.6 L312.9 286.4 L315.3 285.9 L317.6 285.9 L320.0 285.5 L322.3 285.5 L324.6 284.9 L327.0 284.7 L329.3 284.8 L331.7 284.3 L334.0 284.2 L336.4 284.3 L338.7 283.4 L341.1 283.7 L343.4 283.6 L345.8 283.4 L348.1 282.3 L350.4 281.5 L352.8 281.0 L355.1 280.7 L357.5 280.1 L359.8 279.7 L362.2 278.5 L364.5 277.9 L366.9 277.4 L369.2 276.5 L371.5 276.0 L373.9 275.1 L376.2 275.0 L378.6 275.1 L380.9 274.2 L383.3 274.6 L385.6 273.9 L388.0 273.6 L390.3 273.5 L392.6 273.3 L395.0 272.4 L397.3 272.7 L399.7 272.0 L402.0 271.3 L404.4 271.7 L406.7 271.1 L409.1 269.8 L411.4 269.0 L413.8 268.0 L416.1 266.4 L418.4 264.8 L420.8 261.3 L421.3 260.3 L421.7 259.5 L422.2 257.7 L422.7 256.8 L423.1 253.1 L423.6 249.9 L424.1 245.4 L424.5 241.7 L425.0 233.7 L425.5 225.2 L425.9 235.9 L426.4 246.6 L426.9 252.2 L427.4 257.7 L427.8 263.4 L428.3 268.7 L428.8 270.2 L429.2 272.2 L429.7 273.9 L430.2 275.9 L430.6 277.0 L431.1 277.4 L431.6 278.2 L432.0 278.5 L432.5 279.4 L433.0 280.3 L435.3 281.7 L437.7 282.1 L440.0 283.3 L442.4 282.9 L444.7 283.9 L447.1 283.9" stroke="#3aa0a0" stroke-width="1.3" fill="none"/>
<path d="M228.5 339.1 L251.9 339.1 L251.9 322.4 L254.3 319.4 L256.6 316.8 L259.0 314.7 L261.3 312.8 L263.7 310.1 L266.0 308.8 L268.4 307.2 L270.7 305.0 L273.1 303.5 L275.4 301.8 L277.7 300.1 L280.1 298.2 L282.4 296.9 L284.8 294.9 L287.1 293.7 L289.5 292.2 L291.8 291.2 L294.2 289.6 L296.5 289.2 L298.9 288.9 L301.2 288.4 L303.5 287.6 L305.9 287.5 L308.2 286.3 L310.6 286.7 L312.9 286.6 L315.3 286.4 L317.6 285.5 L320.0 285.8 L322.3 285.8 L324.6 285.7 L327.0 285.5 L329.3 284.7 L331.7 284.5 L334.0 284.3 L336.4 284.0 L338.7 284.4 L341.1 283.7 L343.4 283.7 L345.8 283.1 L348.1 282.5 L350.4 281.8 L352.8 281.9 L355.1 280.5 L357.5 279.9 L359.8 279.2 L362.2 279.2 L364.5 278.5 L366.9 277.9 L369.2 277.3 L371.5 275.9 L373.9 275.5 L376.2 275.3 L378.6 274.8 L380.9 274.6 L383.3 274.6 L385.6 274.4 L388.0 274.1 L390.3 273.2 L392.6 273.3 L395.0 273.0 L397.3 272.6 L399.7 272.6 L402.0 272.1 L404.4 271.8 L406.7 270.9 L409.1 270.3 L411.4 269.5 L413.8 268.1 L416.1 267.1 L418.4 264.8 L420.8 262.0 L421.3 261.5 L421.7 260.3 L422.2 259.3 L422.7 258.1 L423.1 255.0 L423.6 251.1 L424.1 247.7 L424.5 244.5 L425.0 236.1 L425.5 228.9 L425.9 238.0 L426.4 248.3 L426.9 253.8 L427.4 259.1 L427.8 264.0 L428.3 269.2 L428.8 271.8 L429.2 273.2 L429.7 275.0 L430.2 276.6 L430.6 277.7 L431.1 278.1 L431.6 278.9 L432.0 279.1 L432.5 280.2 L433.0 280.3 L435.3 282.5 L437.7 283.1 L440.0 283.2 L442.4 283.6 L444.7 284.1 L447.1 283.8" stroke="#70b040" stroke-width="1.3" fill="none"/>
<path d="M228.5 340.3 L251.9 340.3 L251.9 323.2 L254.3 320.2 L256.6 317.8 L259.0 315.5 L261.3 313.3 L263.7 311.3 L266.0 309.5 L268.4 307.8 L270.7 305.6 L273.1 304.6 L275.4 302.2 L277.7 301.2 L280.1 299.3 L282.4 297.6 L284.8 295.3 L287.1 294.3 L289.5 293.0 L291.8 291.1 L294.2 290.3 L296.5 289.6 L298.9 289.0 L301.2 288.2 L303.5 287.7 L305.9 287.2 L308.2 287.0 L310.6 286.8 L312.9 286.8 L315.3 286.0 L317.6 286.0 L320.0 285.8 L322.3 286.1 L324.6 285.6 L327.0 285.1 L329.3 285.1 L331.7 285.3 L334.0 284.8 L336.4 284.2 L338.7 284.5 L341.1 284.4 L343.4 284.1 L345.8 283.5 L348.1 282.7 L350.4 282.7 L352.8 282.1 L355.1 281.3 L357.5 280.6 L359.8 279.8 L362.2 279.5 L364.5 278.6 L366.9 278.1 L369.2 276.7 L371.5 276.2 L373.9 276.3 L376.2 275.2 L378.6 275.6 L380.9 275.0 L383.3 274.2 L385.6 274.0 L388.0 273.7 L390.3 273.6 L392.6 273.5 L395.0 272.9 L397.3 273.0 L399.7 272.6 L402.0 272.2 L404.4 272.2 L406.7 271.4 L409.1 270.2 L411.4 269.5 L413.8 268.8 L416.1 267.4 L418.4 265.7 L420.8 263.3 L421.3 262.0 L421.7 261.4 L422.2 260.3 L422.7 259.3 L423.1 256.5 L423.6 253.1 L424.1 249.6 L424.5 246.6 L425.0 239.4 L425.5 231.5 L425.9 240.4 L426.4 249.5 L426.9 254.8 L427.4 259.9 L427.8 265.3 L428.3 270.5 L428.8 272.4 L429.2 274.3 L429.7 275.7 L430.2 277.9 L430.6 278.2 L431.1 278.5 L431.6 279.2 L432.0 279.8 L432.5 280.8 L433.0 281.2 L435.3 282.7 L437.7 283.1 L440.0 283.8 L442.4 283.8 L444.7 283.7 L447.1 284.5" stroke="#a8b830" stroke-width="1.3" fill="none"/>
<path d="M228.5 341.4 L251.9 341.4 L251.9 323.5 L254.3 321.0 L256.6 318.9 L259.0 316.5 L261.3 313.8 L263.7 312.3 L266.0 310.1 L268.4 308.7 L270.7 306.4 L273.1 304.5 L275.4 303.1 L277.7 301.7 L280.1 299.5 L282.4 297.8 L284.8 295.9 L287.1 294.7 L289.5 293.1 L291.8 291.5 L294.2 290.4 L296.5 289.9 L298.9 288.9 L301.2 289.0 L303.5 288.0 L305.9 287.7 L308.2 286.8 L310.6 287.2 L312.9 286.3 L315.3 286.7 L317.6 286.8 L320.0 286.5 L322.3 286.2 L324.6 286.3 L327.0 285.7 L329.3 285.5 L331.7 285.1 L334.0 285.2 L336.4 285.0 L338.7 284.8 L341.1 284.2 L343.4 283.8 L345.8 283.9 L348.1 283.6 L350.4 282.4 L352.8 282.1 L355.1 281.7 L357.5 281.1 L359.8 279.9 L362.2 279.2 L364.5 278.6 L366.9 278.1 L369.2 277.3 L371.5 276.9 L373.9 275.8 L376.2 275.9 L378.6 275.4 L380.9 274.8 L383.3 274.5 L385.6 274.5 L388.0 274.3 L390.3 273.7 L392.6 273.8 L395.0 272.9 L397.3 273.0 L399.7 272.3 L402.0 272.5 L404.4 272.1 L406.7 271.7 L409.1 270.8 L411.4 270.2 L413.8 269.6 L416.1 267.8 L418.4 266.5 L420.8 264.1 L421.3 263.3 L421.7 262.4 L422.2 261.8 L422.7 260.9 L423.1 257.8 L423.6 255.0 L424.1 251.5 L424.5 248.6 L425.0 242.2 L425.5 234.6 L425.9 242.8 L426.4 251.1 L426.9 256.8 L427.4 261.3 L427.8 266.5 L428.3 272.1 L428.8 273.8 L429.2 274.6 L429.7 276.5 L430.2 278.5 L430.6 279.2 L431.1 279.7 L431.6 280.2 L432.0 280.3 L432.5 281.2 L433.0 281.9 L435.3 282.7 L437.7 283.4 L440.0 284.4 L442.4 283.9 L444.7 284.3 L447.1 284.4" stroke="#d0b030" stroke-width="1.3" fill="none"/>
<path d="M228.5 342.6 L251.9 342.6 L251.9 324.2 L254.3 321.6 L256.6 319.4 L259.0 317.0 L261.3 315.3 L263.7 312.6 L266.0 310.9 L268.4 308.9 L270.7 307.3 L273.1 305.1 L275.4 303.6 L277.7 302.1 L280.1 300.3 L282.4 298.7 L284.8 296.6 L287.1 295.5 L289.5 293.6 L291.8 292.4 L294.2 290.7 L296.5 290.1 L298.9 289.5 L301.2 288.7 L303.5 288.8 L305.9 287.6 L308.2 287.3 L310.6 287.1 L312.9 286.9 L315.3 286.6 L317.6 286.8 L320.0 286.6 L322.3 286.0 L324.6 286.5 L327.0 285.8 L329.3 285.6 L331.7 285.9 L334.0 285.2 L336.4 285.0 L338.7 284.5 L341.1 284.8 L343.4 284.1 L345.8 284.2 L348.1 283.6 L350.4 282.6 L352.8 282.7 L355.1 281.5 L357.5 280.9 L359.8 280.5 L362.2 279.4 L364.5 279.1 L366.9 278.3 L369.2 277.6 L371.5 276.7 L373.9 276.6 L376.2 276.1 L378.6 275.7 L380.9 275.3 L383.3 274.7 L385.6 274.8 L388.0 274.0 L390.3 274.0 L392.6 273.6 L395.0 273.5 L397.3 273.0 L399.7 272.4 L402.0 272.4 L404.4 272.0 L406.7 271.9 L409.1 271.2 L411.4 270.4 L413.8 269.4 L416.1 268.3 L418.4 266.7 L420.8 265.1 L421.3 264.0 L421.7 263.2 L422.2 262.9 L422.7 262.7 L423.1 259.7 L423.6 257.2 L424.1 254.2 L424.5 250.8 L425.0 244.5 L425.5 237.8 L425.9 245.3 L426.4 252.7 L426.9 257.9 L427.4 262.8 L427.8 267.7 L428.3 272.6 L428.8 274.2 L429.2 275.7 L429.7 277.7 L430.2 278.9 L430.6 279.6 L431.1 279.8 L431.6 280.9 L432.0 281.4 L432.5 282.0 L433.0 281.9 L435.3 283.1 L437.7 283.9 L440.0 284.6 L442.4 284.3 L444.7 284.5 L447.1 284.9" stroke="#e0a040" stroke-width="1.3" fill="none"/>
<path d="M228.5 343.7 L251.9 343.7 L251.9 325.2 L254.3 322.9 L256.6 320.6 L259.0 318.3 L261.3 315.9 L263.7 313.4 L266.0 311.3 L268.4 310.2 L270.7 307.9 L273.1 306.5 L275.4 304.6 L277.7 302.2 L280.1 300.6 L282.4 298.5 L284.8 297.1 L287.1 295.9 L289.5 294.1 L291.8 292.4 L294.2 290.6 L296.5 290.0 L298.9 289.8 L301.2 289.3 L303.5 289.0 L305.9 288.0 L308.2 287.8 L310.6 287.7 L312.9 287.7 L315.3 287.5 L317.6 286.8 L320.0 287.1 L322.3 286.3 L324.6 286.8 L327.0 285.9 L329.3 286.4 L331.7 286.2 L334.0 285.4 L336.4 285.6 L338.7 285.0 L341.1 285.2 L343.4 285.1 L345.8 284.3 L348.1 283.7 L350.4 283.0 L352.8 282.4 L355.1 282.3 L357.5 281.2 L359.8 280.5 L362.2 280.0 L364.5 278.9 L366.9 278.8 L369.2 277.4 L371.5 276.9 L373.9 277.0 L376.2 276.7 L378.6 275.8 L380.9 275.2 L383.3 275.5 L385.6 275.0 L388.0 274.3 L390.3 274.4 L392.6 273.5 L395.0 273.5 L397.3 273.6 L399.7 273.1 L402.0 272.6 L404.4 272.5 L406.7 271.8 L409.1 271.6 L411.4 270.3 L413.8 270.0 L416.1 268.8 L418.4 267.4 L420.8 265.7 L421.3 265.2 L421.7 264.4 L422.2 263.8 L422.7 263.4 L423.1 261.0 L423.6 258.7 L424.1 256.4 L424.5 253.1 L425.0 247.1 L425.5 240.8 L425.9 248.1 L426.4 254.6 L426.9 259.1 L427.4 264.0 L427.8 268.9 L428.3 273.9 L428.8 275.3 L429.2 276.4 L429.7 278.4 L430.2 279.6 L430.6 280.1 L431.1 280.4 L431.6 280.9 L432.0 281.9 L432.5 282.6 L433.0 282.8 L435.3 284.0 L437.7 284.3 L440.0 284.5 L442.4 284.6 L444.7 285.5 L447.1 284.9" stroke="#d08040" stroke-width="1.3" fill="none"/>
<path d="M228.5 344.9 L251.9 344.9 L251.9 325.5 L254.3 323.2 L256.6 321.3 L259.0 319.2 L261.3 316.3 L263.7 314.0 L266.0 312.2 L268.4 310.1 L270.7 308.7 L273.1 307.0 L275.4 304.8 L277.7 302.7 L280.1 301.4 L282.4 299.1 L284.8 297.1 L287.1 296.2 L289.5 294.3 L291.8 292.7 L294.2 291.3 L296.5 290.9 L298.9 290.3 L301.2 289.3 L303.5 288.7 L305.9 288.4 L308.2 288.1 L310.6 287.4 L312.9 287.3 L315.3 287.6 L317.6 287.2 L320.0 286.8 L322.3 286.6 L324.6 286.7 L327.0 286.6 L329.3 286.3 L331.7 286.4 L334.0 286.2 L336.4 286.0 L338.7 285.3 L341.1 285.4 L343.4 285.0 L345.8 284.9 L348.1 284.2 L350.4 283.8 L352.8 283.3 L355.1 281.8 L357.5 281.7 L359.8 281.3 L362.2 280.1 L364.5 279.3 L366.9 279.1 L369.2 278.0 L371.5 277.5 L373.9 276.8 L376.2 276.9 L378.6 276.5 L380.9 275.3 L383.3 275.0 L385.6 275.0 L388.0 274.6 L390.3 274.5 L392.6 273.7 L395.0 273.7 L397.3 273.0 L399.7 272.9 L402.0 272.6 L404.4 272.2 L406.7 272.4 L409.1 271.9 L411.4 271.1 L413.8 270.5 L416.1 269.7 L418.4 268.5 L420.8 266.5 L421.3 265.8 L421.7 265.8 L422.2 265.0 L422.7 264.6 L423.1 263.0 L423.6 260.3 L424.1 258.2 L424.5 256.1 L425.0 249.6 L425.5 244.5 L425.9 250.3 L426.4 256.3 L426.9 260.6 L427.4 265.5 L427.8 270.3 L428.3 274.9 L428.8 276.5 L429.2 277.3 L429.7 278.7 L430.2 280.7 L430.6 281.3 L431.1 281.6 L431.6 281.9 L432.0 281.9 L432.5 282.3 L433.0 282.8 L435.3 284.7 L437.7 284.5 L440.0 285.0 L442.4 285.2 L444.7 285.0 L447.1 285.9" stroke="#d05030" stroke-width="1.3" fill="none"/>
<path d="M228.5 346.0 L251.9 346.0 L251.9 326.7 L254.3 324.1 L256.6 321.8 L259.0 319.6 L261.3 317.6 L263.7 315.0 L266.0 312.9 L268.4 311.5 L270.7 309.4 L273.1 307.5 L275.4 305.7 L277.7 303.6 L280.1 302.0 L282.4 300.0 L284.8 298.3 L287.1 296.2 L289.5 295.2 L291.8 293.0 L294.2 291.8 L296.5 291.3 L298.9 290.0 L301.2 290.0 L303.5 288.8 L305.9 288.3 L308.2 287.7 L310.6 288.2 L312.9 287.8 L315.3 288.0 L317.6 287.1 L320.0 287.1 L322.3 287.2 L324.6 287.1 L327.0 287.0 L329.3 286.4 L331.7 286.4 L334.0 286.1 L336.4 286.3 L338.7 286.0 L341.1 285.9 L343.4 285.2 L345.8 285.1 L348.1 284.8 L350.4 283.5 L352.8 283.4 L355.1 282.6 L357.5 282.2 L359.8 281.4 L362.2 280.2 L364.5 279.9 L366.9 279.3 L369.2 278.3 L371.5 277.7 L373.9 276.7 L376.2 277.0 L378.6 275.9 L380.9 276.3 L383.3 275.2 L385.6 275.0 L388.0 275.1 L390.3 274.5 L392.6 274.3 L395.0 274.1 L397.3 273.8 L399.7 273.5 L402.0 272.7 L404.4 272.4 L406.7 272.1 L409.1 272.1 L411.4 271.4 L413.8 270.2 L416.1 270.1 L418.4 268.5 L420.8 267.6 L421.3 266.7 L421.7 267.3 L422.2 266.3 L422.7 266.4 L423.1 264.5 L423.6 262.6 L424.1 259.8 L424.5 258.1 L425.0 253.0 L425.5 247.5 L425.9 252.4 L426.4 258.3 L426.9 262.5 L427.4 267.3 L427.8 271.7 L428.3 275.6 L428.8 277.0 L429.2 278.8 L429.7 280.2 L430.2 281.6 L430.6 281.5 L431.1 282.0 L431.6 282.6 L432.0 283.1 L432.5 283.1 L433.0 283.4 L435.3 284.4 L437.7 285.1 L440.0 285.8 L442.4 286.0 L444.7 285.5 L447.1 285.9" stroke="#c03020" stroke-width="1.3" fill="none"/>
<line x1="228.5" y1="326.4" x2="251.6" y2="326.4" stroke="#6b4a2e" stroke-width="1.6"/>
<line x1="228.5" y1="328.1" x2="251.6" y2="328.1" stroke="#5a4030" stroke-width="1.6"/>
<line x1="228.5" y1="329.7" x2="251.6" y2="329.7" stroke="#3a3a3a" stroke-width="1.6"/>
<line x1="228.5" y1="331.3" x2="251.6" y2="331.3" stroke="#2a2a70" stroke-width="1.6"/>
<line x1="228.5" y1="333.0" x2="251.6" y2="333.0" stroke="#2050a0" stroke-width="1.6"/>
<line x1="228.5" y1="334.6" x2="251.6" y2="334.6" stroke="#1a7a7a" stroke-width="1.6"/>
<line x1="228.5" y1="336.2" x2="251.6" y2="336.2" stroke="#2a9a4a" stroke-width="1.6"/>
<line x1="228.5" y1="337.9" x2="251.6" y2="337.9" stroke="#60b040" stroke-width="1.6"/>
<line x1="228.5" y1="339.5" x2="251.6" y2="339.5" stroke="#b0c040" stroke-width="1.6"/>
<line x1="228.5" y1="341.1" x2="251.6" y2="341.1" stroke="#e0c050" stroke-width="1.6"/>
<line x1="228.5" y1="342.7" x2="251.6" y2="342.7" stroke="#e09060" stroke-width="1.6"/>
<line x1="228.5" y1="344.4" x2="251.6" y2="344.4" stroke="#d04040" stroke-width="1.6"/>
<line x1="228.5" y1="346.0" x2="251.6" y2="346.0" stroke="#e07070" stroke-width="1.6"/>
<path d="M228.5 220.6 L252.8 220.6 L252.8 349.6" stroke="#2424a8" stroke-width="1.25" stroke-dasharray="2.4 1.5" fill="none"/>
<path d="M426.3 349.6 L426.3 220.6 L447 220.6" stroke="#2424a8" stroke-width="1.25" stroke-dasharray="2.4 1.5" fill="none"/>
<path d="M 252.8 349.6 L426.3 349.6" stroke="#2424a8" stroke-width="1" stroke-dasharray="2.2 1.4" fill="none"/>
<path d="M253.0 349.6 L253.3 349.6 L253.7 349.6 L254.0 349.6 L254.4 349.6 L254.7 349.6 L255.1 349.6 L255.4 349.6 L255.8 347.4 L256.1 349.4 L256.5 347.5 L256.8 349.3 L257.2 348.7 L257.5 349.4 L257.9 348.3 L258.2 349.4 L258.6 349.6 L258.9 349.6 L259.3 349.6 L259.6 349.6 L260.0 349.6 L260.3 349.6 L260.7 349.6 L261.0 349.6 L261.4 349.6 L261.7 349.6 L262.1 349.6 L262.4 349.6 L262.8 348.3 L263.1 349.3 L263.5 349.6 L263.8 349.6 L264.2 349.6 L264.5 349.6 L264.9 349.3 L265.2 349.6 L265.6 349.6 L265.9 349.6 L266.3 347.9 L266.6 349.5 L267.0 348.1 L267.3 349.3 L267.7 349.6 L268.0 349.6 L268.4 347.4 L268.7 349.0 L269.1 349.3 L269.4 349.5 L269.8 349.6 L270.1 349.6 L270.5 348.6 L270.8 349.5 L271.2 349.6 L271.5 349.6 L271.9 348.2 L272.2 349.2 L272.6 347.5 L272.9 348.8 L273.3 348.5 L273.6 349.2 L274.0 349.6 L274.3 349.6 L274.7 349.6 L275.0 349.6 L275.4 349.0 L275.7 349.5 L276.1 347.1 L276.4 348.8 L276.8 349.6 L277.1 349.6 L277.5 349.6 L277.8 349.6 L278.2 349.6 L278.5 349.6 L278.9 349.6 L279.2 349.6 L279.6 348.0 L279.9 349.4 L280.3 349.6 L280.6 349.6 L281.0 348.3 L281.3 349.6 L281.7 347.2 L282.0 348.8 L282.4 349.6 L282.7 349.6 L283.1 349.6 L283.4 349.6 L283.8 349.6 L284.1 349.6 L284.5 349.6 L284.8 349.6 L285.2 341.5 L285.5 348.7 L285.9 342.5 L286.2 347.0 L286.6 341.9 L286.9 348.8 L287.3 342.7 L287.6 348.4 L288.0 339.5 L288.3 348.4 L288.7 344.3 L289.0 348.2 L289.4 345.7 L289.7 348.7 L290.1 339.4 L290.4 347.5 L290.8 344.6 L291.1 348.7 L291.5 342.6 L291.8 349.2 L292.2 345.7 L292.5 349.4 L292.9 344.4 L293.2 348.8 L293.6 344.4 L293.9 349.1 L294.3 345.9 L294.6 348.8 L295.0 340.3 L295.3 347.3 L295.7 342.3 L296.0 347.7 L296.4 345.1 L296.7 348.3 L297.1 343.1 L297.4 348.2 L297.8 342.0 L298.1 348.2 L298.5 344.3 L298.8 349.1 L299.2 344.9 L299.5 348.6 L299.9 343.7 L300.2 348.2 L300.6 346.5 L300.9 349.2 L301.3 340.1 L301.6 348.7 L302.0 342.4 L302.3 348.2 L302.7 344.5 L303.0 347.6 L303.4 344.4 L303.7 348.0 L304.1 345.4 L304.4 349.5 L304.8 340.1 L305.1 347.9 L305.5 346.1 L305.8 349.1 L306.2 343.3 L306.5 347.7 L306.9 345.8 L307.2 349.3 L307.6 342.9 L307.9 349.2 L308.3 346.6 L308.6 348.8 L309.0 344.7 L309.3 348.0 L309.7 345.4 L310.0 348.3 L310.4 344.9 L310.7 348.1 L311.1 344.6 L311.4 349.3 L311.8 345.5 L312.1 348.4 L312.5 346.0 L312.8 348.2 L313.2 346.3 L313.5 348.6 L313.9 345.2 L314.2 348.9 L314.6 346.9 L314.9 348.8 L315.3 347.6 L315.6 349.1 L316.0 347.5 L316.3 348.9 L316.7 346.1 L317.0 349.0 L317.4 348.2 L317.7 349.5 L318.1 347.0 L318.4 349.5 L318.8 346.8 L319.1 348.7 L319.5 346.2 L319.8 349.3 L320.2 347.2 L320.5 349.6 L320.9 348.4 L321.2 349.4 L321.6 346.9 L321.9 349.0 L322.3 347.4 L322.6 349.1 L323.0 348.1 L323.3 349.4 L323.7 348.4 L324.0 349.2 L324.4 348.2 L324.7 349.5 L325.1 348.7 L325.4 349.4 L325.8 348.0 L326.1 349.0 L326.5 348.9 L326.8 349.4 L327.2 349.6 L327.5 349.6 L327.9 349.6 L328.2 349.6 L328.6 349.3 L328.9 349.5 L329.3 349.6 L329.6 349.6 L330.0 348.9 L330.3 349.4 L330.7 349.6 L331.0 349.6 L331.4 349.6 L331.7 349.6 L332.1 349.4 L332.4 349.6 L332.8 349.6 L333.1 349.6 L333.5 349.1 L333.8 349.5 L334.2 349.6 L334.5 349.6 L334.9 349.6 L335.2 349.6 L335.6 349.6 L335.9 349.6 L336.3 349.6 L336.6 349.6 L337.0 349.4 L337.3 349.5 L337.7 349.6 L338.0 349.6 L338.4 349.2 L338.7 349.5 L339.1 349.6 L339.4 349.6 L339.8 349.6 L340.1 349.6 L340.5 349.6 L340.8 349.6 L341.2 349.5 L341.5 349.6 L341.9 349.5 L342.2 349.6 L342.6 349.6 L342.9 349.6 L343.3 349.6 L343.6 349.6 L344.0 349.6 L344.3 349.6 L344.7 349.6 L345.0 349.6 L345.4 349.6 L345.7 349.6 L346.1 349.6 L346.4 349.6 L346.8 349.6 L347.1 349.6 L347.5 349.6 L347.8 349.6 L348.2 349.6 L348.5 349.6 L348.9 349.6 L349.2 349.6 L349.6 349.6 L349.9 349.6 L350.3 349.6 L350.6 349.6 L351.0 348.9 L351.3 349.3 L351.7 349.6 L352.0 349.6 L352.4 349.6 L352.7 349.6 L353.1 349.6 L353.4 349.6 L353.8 349.6 L354.1 349.6 L354.5 349.3 L354.8 349.5 L355.2 349.4 L355.5 349.5 L355.9 349.6 L356.2 349.6 L356.6 349.5 L356.9 349.6 L357.3 348.8 L357.6 349.5 L358.0 349.6 L358.3 349.6 L358.7 349.6 L359.0 349.6 L359.4 349.6 L359.7 349.6 L360.1 348.9 L360.4 349.5 L360.8 349.4 L361.1 349.6 L361.5 349.6 L361.8 349.6 L362.2 349.6 L362.5 349.6 L362.9 349.6 L363.2 349.6 L363.6 349.6 L363.9 349.6 L364.3 349.2 L364.6 349.5 L365.0 349.6 L365.3 349.6 L365.7 349.6 L366.0 349.6 L366.4 349.6 L366.7 349.6 L367.1 348.8 L367.4 349.4 L367.8 349.2 L368.1 349.6 L368.5 349.6 L368.8 349.6 L369.2 349.6 L369.5 349.6 L369.9 349.6 L370.2 349.6 L370.6 349.6 L370.9 349.6 L371.3 349.6 L371.6 349.6 L372.0 349.6 L372.3 349.6 L372.7 349.6 L373.0 349.6 L373.4 349.6 L373.7 349.6 L374.1 349.6 L374.4 349.6 L374.8 349.6 L375.1 349.6 L375.5 348.9 L375.8 349.5 L376.2 349.6 L376.5 349.6 L376.9 349.6 L377.2 349.6 L377.6 349.6 L377.9 349.6 L378.3 349.4 L378.6 349.6 L379.0 349.0 L379.3 349.5 L379.7 349.6 L380.0 349.6 L380.4 349.6 L380.7 349.6 L381.1 349.6 L381.4 349.6 L381.8 349.6 L382.1 349.6 L382.5 349.6 L382.8 349.6 L383.2 349.6 L383.5 349.6 L383.9 349.6 L384.2 349.6 L384.6 348.9 L384.9 349.5 L385.3 349.6 L385.6 349.6 L386.0 348.9 L386.3 349.4 L386.7 349.6 L387.0 349.6 L387.4 349.5 L387.7 349.6 L388.1 349.6 L388.4 349.6 L388.8 349.4 L389.1 349.5 L389.5 348.9 L389.8 349.4 L390.2 349.6 L390.5 349.6 L390.9 349.6 L391.2 349.6 L391.6 349.6 L391.9 349.6 L392.3 349.6 L392.6 349.6 L393.0 349.6 L393.3 349.6 L393.7 349.6 L394.0 349.6 L394.4 349.4 L394.7 349.6 L395.1 349.6 L395.4 349.6 L395.8 349.6 L396.1 349.6 L396.5 349.0 L396.8 349.5 L397.2 349.6 L397.5 349.6 L397.9 349.6 L398.2 349.6 L398.6 349.6 L398.9 349.6 L399.3 349.6 L399.6 349.6 L400.0 349.6 L400.3 349.6 L400.7 349.6 L401.0 349.6 L401.4 349.0 L401.7 349.5 L402.1 349.6 L402.4 349.6 L402.8 349.0 L403.1 349.6 L403.5 349.6 L403.8 349.6 L404.2 349.6 L404.5 349.6 L404.9 349.6 L405.2 349.6 L405.6 349.6 L405.9 349.6 L406.3 349.3 L406.6 349.6 L407.0 349.4 L407.3 349.6 L407.7 349.6 L408.0 349.6 L408.4 349.4 L408.7 349.6 L409.1 349.6 L409.4 349.6 L409.8 349.6 L410.1 349.6 L410.5 349.6 L410.8 349.6 L411.2 349.6 L411.5 349.6 L411.9 349.6 L412.2 349.6 L412.6 347.9 L412.9 349.5 L413.3 348.1 L413.6 349.2 L414.0 348.6 L414.3 349.3 L414.7 347.8 L415.0 349.5 L415.4 349.0 L415.7 349.5 L416.1 349.1 L416.4 349.6 L416.8 349.0 L417.1 349.6 L417.5 348.1 L417.8 349.3 L418.2 349.4 L418.5 349.6 L418.9 348.6 L419.2 349.5 L419.6 349.2 L419.9 349.6 L420.3 349.6 L420.6 349.6 L421.0 347.9 L421.3 349.5 L421.7 348.0 L422.0 349.0 L422.4 348.4 L422.7 349.5 L423.1 348.5 L423.4 349.4 L423.8 349.2 L424.1 349.5 L424.5 349.6 L424.8 349.6 L425.2 348.2 L425.5 349.2 L425.9 347.5 L426.2 349.1" stroke="#2424a8" stroke-width="0.8" fill="none"/>
<line x1="229" y1="194" x2="447" y2="194" stroke="#1a1a1a" stroke-width="1.3" stroke-dasharray="2.8 1.8"/>
<path d="M228.5 176.6 L447 176.6 M228.5 176.6 L228.5 353.6 L447 353.6" stroke="#1e1e1e" stroke-width="1.2" fill="none"/>
<line x1="447" y1="177" x2="447" y2="353.5" stroke="#3c3c8c" stroke-width="1.15"/>
<path d="M228.5 336.4 h2.6 M228.5 300.8 h2.6 M228.5 265.2 h2.6 M228.5 229.6 h2.6 M228.5 194.0 h2.6 M275.4 353.5 v-2.6 M275.4 177 v2.6 M322.3 353.5 v-2.6 M322.3 177 v2.6 M369.2 353.5 v-2.6 M369.2 177 v2.6 M416.1 353.5 v-2.6 M416.1 177 v2.6" stroke="#222" stroke-width="1" fill="none"/>
<path d="M447 176.3 h-2.6 M447 220.6 h-2.6 M447 264.9 h-2.6 M447 309.2 h-2.6 M447 353.5 h-2.6" stroke="#3c3c8c" stroke-width="1" fill="none"/>
</g>
<line x1="360.4" y1="205.9" x2="366.7" y2="199.8" stroke="#111" stroke-width="1.1"/><path d="M369.0 197.6 L367.3 202.3 L364.2 199.1 Z" fill="#111"/>
<line x1="258" y1="230" x2="420" y2="230" stroke="#111" stroke-width="1.1"/>
<path d="M253.2 230 L259.5 227.2 L259.5 232.8 Z" fill="#111"/>
<path d="M426 230 L419.7 227.2 L419.7 232.8 Z" fill="#111"/>
<line x1="388.2" y1="292.3" x2="396.6" y2="281.0" stroke="#111" stroke-width="1.1"/><path d="M398.5 278.5 L397.6 283.4 L394.0 280.8 Z" fill="#111"/>
<line x1="346.3" y1="338.4" x2="336.7" y2="345.2" stroke="#2a2ab0" stroke-width="1.0"/><path d="M334.1 347.0 L336.5 342.6 L339.0 346.2 Z" fill="#2a2ab0"/>
<text x="226.0" y="287.06" font-size="11.60" text-anchor="end" fill="#1a1a1a" transform="translate(0 0.00) scale(1 1.190)"  stroke="#1a1a1a" stroke-width="0.30">3.2</text>
<text x="226.0" y="257.14" font-size="11.60" text-anchor="end" fill="#1a1a1a" transform="translate(0 0.00) scale(1 1.190)"  stroke="#1a1a1a" stroke-width="0.30">3.3</text>
<text x="226.0" y="227.23" font-size="11.60" text-anchor="end" fill="#1a1a1a" transform="translate(0 0.00) scale(1 1.190)"  stroke="#1a1a1a" stroke-width="0.30">3.4</text>
<text x="226.0" y="197.31" font-size="11.60" text-anchor="end" fill="#1a1a1a" transform="translate(0 0.00) scale(1 1.190)"  stroke="#1a1a1a" stroke-width="0.30">3.5</text>
<text x="226.0" y="167.39" font-size="11.60" text-anchor="end" fill="#1a1a1a" transform="translate(0 0.00) scale(1 1.190)"  stroke="#1a1a1a" stroke-width="0.30">3.6</text>
<text x="228.7" y="309.24" font-size="11.40" text-anchor="middle" fill="#1a1a1a" transform="translate(0 0.00) scale(1 1.190)"  stroke="#1a1a1a" stroke-width="0.30">0</text>
<text x="275.6" y="309.24" font-size="11.40" text-anchor="middle" fill="#1a1a1a" transform="translate(0 0.00) scale(1 1.190)"  stroke="#1a1a1a" stroke-width="0.30">1</text>
<text x="322.5" y="309.24" font-size="11.40" text-anchor="middle" fill="#1a1a1a" transform="translate(0 0.00) scale(1 1.190)"  stroke="#1a1a1a" stroke-width="0.30">2</text>
<text x="369.4" y="309.24" font-size="11.40" text-anchor="middle" fill="#1a1a1a" transform="translate(0 0.00) scale(1 1.190)"  stroke="#1a1a1a" stroke-width="0.30">3</text>
<text x="416.3" y="309.24" font-size="11.40" text-anchor="middle" fill="#1a1a1a" transform="translate(0 0.00) scale(1 1.190)"  stroke="#1a1a1a" stroke-width="0.30">4</text>
<text x="449.5" y="152.35" font-size="11.40" text-anchor="start" fill="#3a3a9a" transform="translate(0 0.00) scale(1 1.190)"  stroke="#3a3a9a" stroke-width="0.30">2</text>
<text x="449.5" y="189.58" font-size="11.40" text-anchor="start" fill="#3a3a9a" transform="translate(0 0.00) scale(1 1.190)"  stroke="#3a3a9a" stroke-width="0.30">0</text>
<text x="449.5" y="226.81" font-size="11.40" text-anchor="start" fill="#3a3a9a" transform="translate(0 0.00) scale(1 1.190)"  stroke="#3a3a9a" stroke-width="0.30">-2</text>
<text x="449.5" y="264.03" font-size="11.40" text-anchor="start" fill="#3a3a9a" transform="translate(0 0.00) scale(1 1.190)"  stroke="#3a3a9a" stroke-width="0.30">-4</text>
<text x="449.5" y="301.26" font-size="11.40" text-anchor="start" fill="#3a3a9a" transform="translate(0 0.00) scale(1 1.190)"  stroke="#3a3a9a" stroke-width="0.30">-6</text>
<text x="337.6" y="321.68" font-size="11.80" text-anchor="middle" fill="#1a1a1a" transform="translate(0 0.00) scale(1 1.190)"  stroke="#1a1a1a" stroke-width="0.30">Time/s</text>
<text x="421.3" y="325.71" font-size="11.60" text-anchor="start" fill="#1a1a1a" transform="translate(0 0.00) scale(1 1.190)"  stroke="#1a1a1a" stroke-width="0.30">x 10</text>
<text x="442.6" y="317.98" font-size="7.60" text-anchor="start" fill="#1a1a1a" transform="translate(0 0.00) scale(1 1.190)"  stroke="#1a1a1a" stroke-width="0.30">4</text>
<text x="194.8" y="153.83" font-size="13.00" text-anchor="start" fill="#111" transform="translate(0 0.00) scale(1 1.200)" font-weight="bold" stroke="#111" stroke-width="0.30">a</text>
<text transform="translate(206.8 263.5) rotate(-90)" font-size="12.75" text-anchor="middle" fill="#1a1a1a" stroke="#1a1a1a" stroke-width="0.3">Cell Voltages/V</text>
<text transform="translate(468.4 257.8) rotate(-90)" font-size="12.45" text-anchor="middle" fill="#3a3a9a" stroke="#3a3a9a" stroke-width="0.3">Current/A</text>
<text x="263.2" y="196.73" font-size="10.20" text-anchor="start" fill="#222" transform="translate(0 0.00) scale(1 1.100)"  stroke="#222" stroke-width="0.30">Charge cutoff voltage</text>
<text x="268.9" y="219.73" font-size="10.05" text-anchor="start" fill="#222" transform="translate(0 0.00) scale(1 1.100)"  stroke="#222" stroke-width="0.30">Constant current charge period</text>
<text x="317.5" y="275.27" font-size="10.15" text-anchor="start" fill="#222" transform="translate(0 0.00) scale(1 1.100)"  stroke="#222" stroke-width="0.30">96 cell voltages</text>
<text x="348.4" y="305.45" font-size="9.95" text-anchor="start" fill="#3030b0" transform="translate(0 0.00) scale(1 1.100)"  stroke="#3030b0" stroke-width="0.30">Current</text>
<path d="M534.3 326.9 L551.8 315.1 L569.2 301.1 L586.7 220.7" stroke="#a6ae44" stroke-width="1.2" fill="none"/>
<path d="M534.3 295.9 L551.8 290.7 L569.2 300.2 L586.7 311.5 L604.1 312.2 L621.6 312.5 L639.1 308.8 L656.5 313.3 L674.0 310.1 L691.4 310.8 L708.9 313.5 L726.4 310.1 L743.8 314.2 L761.3 315.1 L778.7 311.4" stroke="#7a7a8c" stroke-width="1.1" fill="none"/>
<circle cx="534.3" cy="295.9" r="2.1" stroke="#7a7a8c" stroke-width="0.8" fill="none"/><circle cx="551.8" cy="290.7" r="2.1" stroke="#7a7a8c" stroke-width="0.8" fill="none"/><circle cx="569.2" cy="300.2" r="2.1" stroke="#7a7a8c" stroke-width="0.8" fill="none"/><circle cx="586.7" cy="311.5" r="2.1" stroke="#7a7a8c" stroke-width="0.8" fill="none"/><circle cx="604.1" cy="312.2" r="2.1" stroke="#7a7a8c" stroke-width="0.8" fill="none"/><circle cx="621.6" cy="312.5" r="2.1" stroke="#7a7a8c" stroke-width="0.8" fill="none"/><circle cx="639.1" cy="308.8" r="2.1" stroke="#7a7a8c" stroke-width="0.8" fill="none"/><circle cx="656.5" cy="313.3" r="2.1" stroke="#7a7a8c" stroke-width="0.8" fill="none"/><circle cx="674.0" cy="310.1" r="2.1" stroke="#7a7a8c" stroke-width="0.8" fill="none"/><circle cx="691.4" cy="310.8" r="2.1" stroke="#7a7a8c" stroke-width="0.8" fill="none"/><circle cx="708.9" cy="313.5" r="2.1" stroke="#7a7a8c" stroke-width="0.8" fill="none"/><circle cx="726.4" cy="310.1" r="2.1" stroke="#7a7a8c" stroke-width="0.8" fill="none"/><circle cx="743.8" cy="314.2" r="2.1" stroke="#7a7a8c" stroke-width="0.8" fill="none"/><circle cx="761.3" cy="315.1" r="2.1" stroke="#7a7a8c" stroke-width="0.8" fill="none"/><circle cx="778.7" cy="311.4" r="2.1" stroke="#7a7a8c" stroke-width="0.8" fill="none"/>
<path d="M534.3 321.8 L551.8 312.8 L569.2 324.2 L586.7 330.1 L604.1 333.7 L621.6 333.6 L639.1 329.3 L656.5 331.2 L674.0 328.4 L691.4 333.0 L708.9 334.4 L726.4 330.1 L743.8 333.0 L761.3 334.7 L778.7 331.7" stroke="#8a9a30" stroke-width="1.1" fill="none"/>
<circle cx="534.3" cy="321.8" r="2.1" stroke="#8a9a30" stroke-width="0.8" fill="none"/><circle cx="551.8" cy="312.8" r="2.1" stroke="#8a9a30" stroke-width="0.8" fill="none"/><circle cx="569.2" cy="324.2" r="2.1" stroke="#8a9a30" stroke-width="0.8" fill="none"/><circle cx="586.7" cy="330.1" r="2.1" stroke="#8a9a30" stroke-width="0.8" fill="none"/><circle cx="604.1" cy="333.7" r="2.1" stroke="#8a9a30" stroke-width="0.8" fill="none"/><circle cx="621.6" cy="333.6" r="2.1" stroke="#8a9a30" stroke-width="0.8" fill="none"/><circle cx="639.1" cy="329.3" r="2.1" stroke="#8a9a30" stroke-width="0.8" fill="none"/><circle cx="656.5" cy="331.2" r="2.1" stroke="#8a9a30" stroke-width="0.8" fill="none"/><circle cx="674.0" cy="328.4" r="2.1" stroke="#8a9a30" stroke-width="0.8" fill="none"/><circle cx="691.4" cy="333.0" r="2.1" stroke="#8a9a30" stroke-width="0.8" fill="none"/><circle cx="708.9" cy="334.4" r="2.1" stroke="#8a9a30" stroke-width="0.8" fill="none"/><circle cx="726.4" cy="330.1" r="2.1" stroke="#8a9a30" stroke-width="0.8" fill="none"/><circle cx="743.8" cy="333.0" r="2.1" stroke="#8a9a30" stroke-width="0.8" fill="none"/><circle cx="761.3" cy="334.7" r="2.1" stroke="#8a9a30" stroke-width="0.8" fill="none"/><circle cx="778.7" cy="331.7" r="2.1" stroke="#8a9a30" stroke-width="0.8" fill="none"/>
<path d="M534.3 322.0 L551.8 314.0 L569.2 324.0 L586.7 330.3 L604.1 334.0 L621.6 330.6 L639.1 328.6 L656.5 331.9 L674.0 328.0 L691.4 331.9 L708.9 332.4 L726.4 329.5 L743.8 330.4 L761.3 334.3 L778.7 328.4" stroke="#7a9a3a" stroke-width="1.1" fill="none"/>
<circle cx="534.3" cy="322.0" r="2.1" stroke="#7a9a3a" stroke-width="0.8" fill="none"/><circle cx="551.8" cy="314.0" r="2.1" stroke="#7a9a3a" stroke-width="0.8" fill="none"/><circle cx="569.2" cy="324.0" r="2.1" stroke="#7a9a3a" stroke-width="0.8" fill="none"/><circle cx="586.7" cy="330.3" r="2.1" stroke="#7a9a3a" stroke-width="0.8" fill="none"/><circle cx="604.1" cy="334.0" r="2.1" stroke="#7a9a3a" stroke-width="0.8" fill="none"/><circle cx="621.6" cy="330.6" r="2.1" stroke="#7a9a3a" stroke-width="0.8" fill="none"/><circle cx="639.1" cy="328.6" r="2.1" stroke="#7a9a3a" stroke-width="0.8" fill="none"/><circle cx="656.5" cy="331.9" r="2.1" stroke="#7a9a3a" stroke-width="0.8" fill="none"/><circle cx="674.0" cy="328.0" r="2.1" stroke="#7a9a3a" stroke-width="0.8" fill="none"/><circle cx="691.4" cy="331.9" r="2.1" stroke="#7a9a3a" stroke-width="0.8" fill="none"/><circle cx="708.9" cy="332.4" r="2.1" stroke="#7a9a3a" stroke-width="0.8" fill="none"/><circle cx="726.4" cy="329.5" r="2.1" stroke="#7a9a3a" stroke-width="0.8" fill="none"/><circle cx="743.8" cy="330.4" r="2.1" stroke="#7a9a3a" stroke-width="0.8" fill="none"/><circle cx="761.3" cy="334.3" r="2.1" stroke="#7a9a3a" stroke-width="0.8" fill="none"/><circle cx="778.7" cy="328.4" r="2.1" stroke="#7a9a3a" stroke-width="0.8" fill="none"/>
<path d="M534.3 296.5 L551.8 293.2 L569.2 298.2 L586.7 312.2 L604.1 314.0 L621.6 313.6 L639.1 308.4 L656.5 312.7 L674.0 309.8 L691.4 312.4 L708.9 315.2 L726.4 310.7 L743.8 313.9 L761.3 317.0 L778.7 312.7" stroke="#7a7a8c" stroke-width="1.1" fill="none"/>
<circle cx="534.3" cy="296.5" r="2.1" stroke="#7a7a8c" stroke-width="0.8" fill="none"/><circle cx="551.8" cy="293.2" r="2.1" stroke="#7a7a8c" stroke-width="0.8" fill="none"/><circle cx="569.2" cy="298.2" r="2.1" stroke="#7a7a8c" stroke-width="0.8" fill="none"/><circle cx="586.7" cy="312.2" r="2.1" stroke="#7a7a8c" stroke-width="0.8" fill="none"/><circle cx="604.1" cy="314.0" r="2.1" stroke="#7a7a8c" stroke-width="0.8" fill="none"/><circle cx="621.6" cy="313.6" r="2.1" stroke="#7a7a8c" stroke-width="0.8" fill="none"/><circle cx="639.1" cy="308.4" r="2.1" stroke="#7a7a8c" stroke-width="0.8" fill="none"/><circle cx="656.5" cy="312.7" r="2.1" stroke="#7a7a8c" stroke-width="0.8" fill="none"/><circle cx="674.0" cy="309.8" r="2.1" stroke="#7a7a8c" stroke-width="0.8" fill="none"/><circle cx="691.4" cy="312.4" r="2.1" stroke="#7a7a8c" stroke-width="0.8" fill="none"/><circle cx="708.9" cy="315.2" r="2.1" stroke="#7a7a8c" stroke-width="0.8" fill="none"/><circle cx="726.4" cy="310.7" r="2.1" stroke="#7a7a8c" stroke-width="0.8" fill="none"/><circle cx="743.8" cy="313.9" r="2.1" stroke="#7a7a8c" stroke-width="0.8" fill="none"/><circle cx="761.3" cy="317.0" r="2.1" stroke="#7a7a8c" stroke-width="0.8" fill="none"/><circle cx="778.7" cy="312.7" r="2.1" stroke="#7a7a8c" stroke-width="0.8" fill="none"/>
<path d="M534.3 321.5 L551.8 311.6 L569.2 322.6 L586.7 331.6 L604.1 331.0 L621.6 332.5 L639.1 326.0 L656.5 331.6 L674.0 329.3 L691.4 332.3 L708.9 331.4 L726.4 326.4 L743.8 331.7 L761.3 333.0 L778.7 330.0" stroke="#8a9a30" stroke-width="1.1" fill="none"/>
<circle cx="534.3" cy="321.5" r="2.1" stroke="#8a9a30" stroke-width="0.8" fill="none"/><circle cx="551.8" cy="311.6" r="2.1" stroke="#8a9a30" stroke-width="0.8" fill="none"/><circle cx="569.2" cy="322.6" r="2.1" stroke="#8a9a30" stroke-width="0.8" fill="none"/><circle cx="586.7" cy="331.6" r="2.1" stroke="#8a9a30" stroke-width="0.8" fill="none"/><circle cx="604.1" cy="331.0" r="2.1" stroke="#8a9a30" stroke-width="0.8" fill="none"/><circle cx="621.6" cy="332.5" r="2.1" stroke="#8a9a30" stroke-width="0.8" fill="none"/><circle cx="639.1" cy="326.0" r="2.1" stroke="#8a9a30" stroke-width="0.8" fill="none"/><circle cx="656.5" cy="331.6" r="2.1" stroke="#8a9a30" stroke-width="0.8" fill="none"/><circle cx="674.0" cy="329.3" r="2.1" stroke="#8a9a30" stroke-width="0.8" fill="none"/><circle cx="691.4" cy="332.3" r="2.1" stroke="#8a9a30" stroke-width="0.8" fill="none"/><circle cx="708.9" cy="331.4" r="2.1" stroke="#8a9a30" stroke-width="0.8" fill="none"/><circle cx="726.4" cy="326.4" r="2.1" stroke="#8a9a30" stroke-width="0.8" fill="none"/><circle cx="743.8" cy="331.7" r="2.1" stroke="#8a9a30" stroke-width="0.8" fill="none"/><circle cx="761.3" cy="333.0" r="2.1" stroke="#8a9a30" stroke-width="0.8" fill="none"/><circle cx="778.7" cy="330.0" r="2.1" stroke="#8a9a30" stroke-width="0.8" fill="none"/>
<path d="M534.3 321.6 L551.8 310.4 L569.2 322.0 L586.7 330.8 L604.1 332.3 L621.6 329.4 L639.1 327.9 L656.5 331.0 L674.0 325.8 L691.4 329.0 L708.9 331.5 L726.4 328.8 L743.8 329.8 L761.3 332.0 L778.7 329.4" stroke="#7a9a3a" stroke-width="1.1" fill="none"/>
<circle cx="534.3" cy="321.6" r="2.1" stroke="#7a9a3a" stroke-width="0.8" fill="none"/><circle cx="551.8" cy="310.4" r="2.1" stroke="#7a9a3a" stroke-width="0.8" fill="none"/><circle cx="569.2" cy="322.0" r="2.1" stroke="#7a9a3a" stroke-width="0.8" fill="none"/><circle cx="586.7" cy="330.8" r="2.1" stroke="#7a9a3a" stroke-width="0.8" fill="none"/><circle cx="604.1" cy="332.3" r="2.1" stroke="#7a9a3a" stroke-width="0.8" fill="none"/><circle cx="621.6" cy="329.4" r="2.1" stroke="#7a9a3a" stroke-width="0.8" fill="none"/><circle cx="639.1" cy="327.9" r="2.1" stroke="#7a9a3a" stroke-width="0.8" fill="none"/><circle cx="656.5" cy="331.0" r="2.1" stroke="#7a9a3a" stroke-width="0.8" fill="none"/><circle cx="674.0" cy="325.8" r="2.1" stroke="#7a9a3a" stroke-width="0.8" fill="none"/><circle cx="691.4" cy="329.0" r="2.1" stroke="#7a9a3a" stroke-width="0.8" fill="none"/><circle cx="708.9" cy="331.5" r="2.1" stroke="#7a9a3a" stroke-width="0.8" fill="none"/><circle cx="726.4" cy="328.8" r="2.1" stroke="#7a9a3a" stroke-width="0.8" fill="none"/><circle cx="743.8" cy="329.8" r="2.1" stroke="#7a9a3a" stroke-width="0.8" fill="none"/><circle cx="761.3" cy="332.0" r="2.1" stroke="#7a9a3a" stroke-width="0.8" fill="none"/><circle cx="778.7" cy="329.4" r="2.1" stroke="#7a9a3a" stroke-width="0.8" fill="none"/>
<path d="M534.3 318.7 L551.8 311.6 L569.2 320.6 L586.7 328.9 L604.1 330.5 L621.6 329.6 L639.1 328.1 L656.5 331.0 L674.0 325.3 L691.4 328.7 L708.9 332.8 L726.4 327.8 L743.8 330.5 L761.3 333.4 L778.7 329.1" stroke="#b0b040" stroke-width="1.1" fill="none"/>
<circle cx="534.3" cy="318.7" r="2.1" stroke="#b0b040" stroke-width="0.8" fill="none"/><circle cx="551.8" cy="311.6" r="2.1" stroke="#b0b040" stroke-width="0.8" fill="none"/><circle cx="569.2" cy="320.6" r="2.1" stroke="#b0b040" stroke-width="0.8" fill="none"/><circle cx="586.7" cy="328.9" r="2.1" stroke="#b0b040" stroke-width="0.8" fill="none"/><circle cx="604.1" cy="330.5" r="2.1" stroke="#b0b040" stroke-width="0.8" fill="none"/><circle cx="621.6" cy="329.6" r="2.1" stroke="#b0b040" stroke-width="0.8" fill="none"/><circle cx="639.1" cy="328.1" r="2.1" stroke="#b0b040" stroke-width="0.8" fill="none"/><circle cx="656.5" cy="331.0" r="2.1" stroke="#b0b040" stroke-width="0.8" fill="none"/><circle cx="674.0" cy="325.3" r="2.1" stroke="#b0b040" stroke-width="0.8" fill="none"/><circle cx="691.4" cy="328.7" r="2.1" stroke="#b0b040" stroke-width="0.8" fill="none"/><circle cx="708.9" cy="332.8" r="2.1" stroke="#b0b040" stroke-width="0.8" fill="none"/><circle cx="726.4" cy="327.8" r="2.1" stroke="#b0b040" stroke-width="0.8" fill="none"/><circle cx="743.8" cy="330.5" r="2.1" stroke="#b0b040" stroke-width="0.8" fill="none"/><circle cx="761.3" cy="333.4" r="2.1" stroke="#b0b040" stroke-width="0.8" fill="none"/><circle cx="778.7" cy="329.1" r="2.1" stroke="#b0b040" stroke-width="0.8" fill="none"/>
<path d="M534.3 297.3 L551.8 294.0 L569.2 300.9 L586.7 314.3 L604.1 316.2 L621.6 315.7 L639.1 309.8 L656.5 315.7 L674.0 310.1 L691.4 314.2 L708.9 316.7 L726.4 310.1 L743.8 316.1 L761.3 318.1 L778.7 312.4" stroke="#6a8a9a" stroke-width="1.1" fill="none"/>
<circle cx="534.3" cy="297.3" r="2.1" stroke="#6a8a9a" stroke-width="0.8" fill="none"/><circle cx="551.8" cy="294.0" r="2.1" stroke="#6a8a9a" stroke-width="0.8" fill="none"/><circle cx="569.2" cy="300.9" r="2.1" stroke="#6a8a9a" stroke-width="0.8" fill="none"/><circle cx="586.7" cy="314.3" r="2.1" stroke="#6a8a9a" stroke-width="0.8" fill="none"/><circle cx="604.1" cy="316.2" r="2.1" stroke="#6a8a9a" stroke-width="0.8" fill="none"/><circle cx="621.6" cy="315.7" r="2.1" stroke="#6a8a9a" stroke-width="0.8" fill="none"/><circle cx="639.1" cy="309.8" r="2.1" stroke="#6a8a9a" stroke-width="0.8" fill="none"/><circle cx="656.5" cy="315.7" r="2.1" stroke="#6a8a9a" stroke-width="0.8" fill="none"/><circle cx="674.0" cy="310.1" r="2.1" stroke="#6a8a9a" stroke-width="0.8" fill="none"/><circle cx="691.4" cy="314.2" r="2.1" stroke="#6a8a9a" stroke-width="0.8" fill="none"/><circle cx="708.9" cy="316.7" r="2.1" stroke="#6a8a9a" stroke-width="0.8" fill="none"/><circle cx="726.4" cy="310.1" r="2.1" stroke="#6a8a9a" stroke-width="0.8" fill="none"/><circle cx="743.8" cy="316.1" r="2.1" stroke="#6a8a9a" stroke-width="0.8" fill="none"/><circle cx="761.3" cy="318.1" r="2.1" stroke="#6a8a9a" stroke-width="0.8" fill="none"/><circle cx="778.7" cy="312.4" r="2.1" stroke="#6a8a9a" stroke-width="0.8" fill="none"/>
<path d="M534.3 318.5 L551.8 309.5 L569.2 320.4 L586.7 328.7 L604.1 328.3 L621.6 327.8 L639.1 323.5 L656.5 328.8 L674.0 326.3 L691.4 329.8 L708.9 329.7 L726.4 325.7 L743.8 328.9 L761.3 331.2 L778.7 326.3" stroke="#6a4aa0" stroke-width="1.1" fill="none"/>
<circle cx="534.3" cy="318.5" r="2.1" stroke="#6a4aa0" stroke-width="0.8" fill="none"/><circle cx="551.8" cy="309.5" r="2.1" stroke="#6a4aa0" stroke-width="0.8" fill="none"/><circle cx="569.2" cy="320.4" r="2.1" stroke="#6a4aa0" stroke-width="0.8" fill="none"/><circle cx="586.7" cy="328.7" r="2.1" stroke="#6a4aa0" stroke-width="0.8" fill="none"/><circle cx="604.1" cy="328.3" r="2.1" stroke="#6a4aa0" stroke-width="0.8" fill="none"/><circle cx="621.6" cy="327.8" r="2.1" stroke="#6a4aa0" stroke-width="0.8" fill="none"/><circle cx="639.1" cy="323.5" r="2.1" stroke="#6a4aa0" stroke-width="0.8" fill="none"/><circle cx="656.5" cy="328.8" r="2.1" stroke="#6a4aa0" stroke-width="0.8" fill="none"/><circle cx="674.0" cy="326.3" r="2.1" stroke="#6a4aa0" stroke-width="0.8" fill="none"/><circle cx="691.4" cy="329.8" r="2.1" stroke="#6a4aa0" stroke-width="0.8" fill="none"/><circle cx="708.9" cy="329.7" r="2.1" stroke="#6a4aa0" stroke-width="0.8" fill="none"/><circle cx="726.4" cy="325.7" r="2.1" stroke="#6a4aa0" stroke-width="0.8" fill="none"/><circle cx="743.8" cy="328.9" r="2.1" stroke="#6a4aa0" stroke-width="0.8" fill="none"/><circle cx="761.3" cy="331.2" r="2.1" stroke="#6a4aa0" stroke-width="0.8" fill="none"/><circle cx="778.7" cy="326.3" r="2.1" stroke="#6a4aa0" stroke-width="0.8" fill="none"/>
<path d="M534.3 300.0 L551.8 295.7 L569.2 303.3 L586.7 316.4 L604.1 317.5 L621.6 316.6 L639.1 312.4 L656.5 317.4 L674.0 314.0 L691.4 314.6 L708.9 318.5 L726.4 314.3 L743.8 315.6 L761.3 321.0 L778.7 315.9" stroke="#2a5a8a" stroke-width="1.1" fill="none"/>
<circle cx="534.3" cy="300.0" r="2.1" stroke="#2a5a8a" stroke-width="0.8" fill="none"/><circle cx="551.8" cy="295.7" r="2.1" stroke="#2a5a8a" stroke-width="0.8" fill="none"/><circle cx="569.2" cy="303.3" r="2.1" stroke="#2a5a8a" stroke-width="0.8" fill="none"/><circle cx="586.7" cy="316.4" r="2.1" stroke="#2a5a8a" stroke-width="0.8" fill="none"/><circle cx="604.1" cy="317.5" r="2.1" stroke="#2a5a8a" stroke-width="0.8" fill="none"/><circle cx="621.6" cy="316.6" r="2.1" stroke="#2a5a8a" stroke-width="0.8" fill="none"/><circle cx="639.1" cy="312.4" r="2.1" stroke="#2a5a8a" stroke-width="0.8" fill="none"/><circle cx="656.5" cy="317.4" r="2.1" stroke="#2a5a8a" stroke-width="0.8" fill="none"/><circle cx="674.0" cy="314.0" r="2.1" stroke="#2a5a8a" stroke-width="0.8" fill="none"/><circle cx="691.4" cy="314.6" r="2.1" stroke="#2a5a8a" stroke-width="0.8" fill="none"/><circle cx="708.9" cy="318.5" r="2.1" stroke="#2a5a8a" stroke-width="0.8" fill="none"/><circle cx="726.4" cy="314.3" r="2.1" stroke="#2a5a8a" stroke-width="0.8" fill="none"/><circle cx="743.8" cy="315.6" r="2.1" stroke="#2a5a8a" stroke-width="0.8" fill="none"/><circle cx="761.3" cy="321.0" r="2.1" stroke="#2a5a8a" stroke-width="0.8" fill="none"/><circle cx="778.7" cy="315.9" r="2.1" stroke="#2a5a8a" stroke-width="0.8" fill="none"/>
<path d="M534.3 316.0 L551.8 309.9 L569.2 318.2 L586.7 328.9 L604.1 328.5 L621.6 328.8 L639.1 325.2 L656.5 325.8 L674.0 325.7 L691.4 327.5 L708.9 329.2 L726.4 326.1 L743.8 328.6 L761.3 330.1 L778.7 326.6" stroke="#6a4aa0" stroke-width="1.1" fill="none"/>
<circle cx="534.3" cy="316.0" r="2.1" stroke="#6a4aa0" stroke-width="0.8" fill="none"/><circle cx="551.8" cy="309.9" r="2.1" stroke="#6a4aa0" stroke-width="0.8" fill="none"/><circle cx="569.2" cy="318.2" r="2.1" stroke="#6a4aa0" stroke-width="0.8" fill="none"/><circle cx="586.7" cy="328.9" r="2.1" stroke="#6a4aa0" stroke-width="0.8" fill="none"/><circle cx="604.1" cy="328.5" r="2.1" stroke="#6a4aa0" stroke-width="0.8" fill="none"/><circle cx="621.6" cy="328.8" r="2.1" stroke="#6a4aa0" stroke-width="0.8" fill="none"/><circle cx="639.1" cy="325.2" r="2.1" stroke="#6a4aa0" stroke-width="0.8" fill="none"/><circle cx="656.5" cy="325.8" r="2.1" stroke="#6a4aa0" stroke-width="0.8" fill="none"/><circle cx="674.0" cy="325.7" r="2.1" stroke="#6a4aa0" stroke-width="0.8" fill="none"/><circle cx="691.4" cy="327.5" r="2.1" stroke="#6a4aa0" stroke-width="0.8" fill="none"/><circle cx="708.9" cy="329.2" r="2.1" stroke="#6a4aa0" stroke-width="0.8" fill="none"/><circle cx="726.4" cy="326.1" r="2.1" stroke="#6a4aa0" stroke-width="0.8" fill="none"/><circle cx="743.8" cy="328.6" r="2.1" stroke="#6a4aa0" stroke-width="0.8" fill="none"/><circle cx="761.3" cy="330.1" r="2.1" stroke="#6a4aa0" stroke-width="0.8" fill="none"/><circle cx="778.7" cy="326.6" r="2.1" stroke="#6a4aa0" stroke-width="0.8" fill="none"/>
<path d="M534.3 316.0 L551.8 307.2 L569.2 319.1 L586.7 328.1 L604.1 330.1 L621.6 326.9 L639.1 325.3 L656.5 328.6 L674.0 323.6 L691.4 327.2 L708.9 330.5 L726.4 323.8 L743.8 327.3 L761.3 330.4 L778.7 327.2" stroke="#2a2a6a" stroke-width="1.1" fill="none"/>
<circle cx="534.3" cy="316.0" r="2.1" stroke="#2a2a6a" stroke-width="0.8" fill="none"/><circle cx="551.8" cy="307.2" r="2.1" stroke="#2a2a6a" stroke-width="0.8" fill="none"/><circle cx="569.2" cy="319.1" r="2.1" stroke="#2a2a6a" stroke-width="0.8" fill="none"/><circle cx="586.7" cy="328.1" r="2.1" stroke="#2a2a6a" stroke-width="0.8" fill="none"/><circle cx="604.1" cy="330.1" r="2.1" stroke="#2a2a6a" stroke-width="0.8" fill="none"/><circle cx="621.6" cy="326.9" r="2.1" stroke="#2a2a6a" stroke-width="0.8" fill="none"/><circle cx="639.1" cy="325.3" r="2.1" stroke="#2a2a6a" stroke-width="0.8" fill="none"/><circle cx="656.5" cy="328.6" r="2.1" stroke="#2a2a6a" stroke-width="0.8" fill="none"/><circle cx="674.0" cy="323.6" r="2.1" stroke="#2a2a6a" stroke-width="0.8" fill="none"/><circle cx="691.4" cy="327.2" r="2.1" stroke="#2a2a6a" stroke-width="0.8" fill="none"/><circle cx="708.9" cy="330.5" r="2.1" stroke="#2a2a6a" stroke-width="0.8" fill="none"/><circle cx="726.4" cy="323.8" r="2.1" stroke="#2a2a6a" stroke-width="0.8" fill="none"/><circle cx="743.8" cy="327.3" r="2.1" stroke="#2a2a6a" stroke-width="0.8" fill="none"/><circle cx="761.3" cy="330.4" r="2.1" stroke="#2a2a6a" stroke-width="0.8" fill="none"/><circle cx="778.7" cy="327.2" r="2.1" stroke="#2a2a6a" stroke-width="0.8" fill="none"/>
<path d="M534.3 300.5 L551.8 294.8 L569.2 305.2 L586.7 316.6 L604.1 317.8 L621.6 316.5 L639.1 311.6 L656.5 315.1 L674.0 313.1 L691.4 315.1 L708.9 318.4 L726.4 312.3 L743.8 318.4 L761.3 320.6 L778.7 314.9" stroke="#5a5a9a" stroke-width="1.1" fill="none"/>
<circle cx="534.3" cy="300.5" r="2.1" stroke="#5a5a9a" stroke-width="0.8" fill="none"/><circle cx="551.8" cy="294.8" r="2.1" stroke="#5a5a9a" stroke-width="0.8" fill="none"/><circle cx="569.2" cy="305.2" r="2.1" stroke="#5a5a9a" stroke-width="0.8" fill="none"/><circle cx="586.7" cy="316.6" r="2.1" stroke="#5a5a9a" stroke-width="0.8" fill="none"/><circle cx="604.1" cy="317.8" r="2.1" stroke="#5a5a9a" stroke-width="0.8" fill="none"/><circle cx="621.6" cy="316.5" r="2.1" stroke="#5a5a9a" stroke-width="0.8" fill="none"/><circle cx="639.1" cy="311.6" r="2.1" stroke="#5a5a9a" stroke-width="0.8" fill="none"/><circle cx="656.5" cy="315.1" r="2.1" stroke="#5a5a9a" stroke-width="0.8" fill="none"/><circle cx="674.0" cy="313.1" r="2.1" stroke="#5a5a9a" stroke-width="0.8" fill="none"/><circle cx="691.4" cy="315.1" r="2.1" stroke="#5a5a9a" stroke-width="0.8" fill="none"/><circle cx="708.9" cy="318.4" r="2.1" stroke="#5a5a9a" stroke-width="0.8" fill="none"/><circle cx="726.4" cy="312.3" r="2.1" stroke="#5a5a9a" stroke-width="0.8" fill="none"/><circle cx="743.8" cy="318.4" r="2.1" stroke="#5a5a9a" stroke-width="0.8" fill="none"/><circle cx="761.3" cy="320.6" r="2.1" stroke="#5a5a9a" stroke-width="0.8" fill="none"/><circle cx="778.7" cy="314.9" r="2.1" stroke="#5a5a9a" stroke-width="0.8" fill="none"/>
<path d="M534.3 300.7 L551.8 293.8 L569.2 304.0 L586.7 316.6 L604.1 317.3 L621.6 317.0 L639.1 310.8 L656.5 317.5 L674.0 313.4 L691.4 317.7 L708.9 319.4 L726.4 312.9 L743.8 317.5 L761.3 322.0 L778.7 316.5" stroke="#3a6a9a" stroke-width="1.1" fill="none"/>
<circle cx="534.3" cy="300.7" r="2.1" stroke="#3a6a9a" stroke-width="0.8" fill="none"/><circle cx="551.8" cy="293.8" r="2.1" stroke="#3a6a9a" stroke-width="0.8" fill="none"/><circle cx="569.2" cy="304.0" r="2.1" stroke="#3a6a9a" stroke-width="0.8" fill="none"/><circle cx="586.7" cy="316.6" r="2.1" stroke="#3a6a9a" stroke-width="0.8" fill="none"/><circle cx="604.1" cy="317.3" r="2.1" stroke="#3a6a9a" stroke-width="0.8" fill="none"/><circle cx="621.6" cy="317.0" r="2.1" stroke="#3a6a9a" stroke-width="0.8" fill="none"/><circle cx="639.1" cy="310.8" r="2.1" stroke="#3a6a9a" stroke-width="0.8" fill="none"/><circle cx="656.5" cy="317.5" r="2.1" stroke="#3a6a9a" stroke-width="0.8" fill="none"/><circle cx="674.0" cy="313.4" r="2.1" stroke="#3a6a9a" stroke-width="0.8" fill="none"/><circle cx="691.4" cy="317.7" r="2.1" stroke="#3a6a9a" stroke-width="0.8" fill="none"/><circle cx="708.9" cy="319.4" r="2.1" stroke="#3a6a9a" stroke-width="0.8" fill="none"/><circle cx="726.4" cy="312.9" r="2.1" stroke="#3a6a9a" stroke-width="0.8" fill="none"/><circle cx="743.8" cy="317.5" r="2.1" stroke="#3a6a9a" stroke-width="0.8" fill="none"/><circle cx="761.3" cy="322.0" r="2.1" stroke="#3a6a9a" stroke-width="0.8" fill="none"/><circle cx="778.7" cy="316.5" r="2.1" stroke="#3a6a9a" stroke-width="0.8" fill="none"/>
<path d="M534.3 315.0 L551.8 307.3 L569.2 317.6 L586.7 325.4 L604.1 329.6 L621.6 329.3 L639.1 324.1 L656.5 328.3 L674.0 323.4 L691.4 328.9 L708.9 329.8 L726.4 325.3 L743.8 327.7 L761.3 329.0 L778.7 326.3" stroke="#6a4aa0" stroke-width="1.1" fill="none"/>
<circle cx="534.3" cy="315.0" r="2.1" stroke="#6a4aa0" stroke-width="0.8" fill="none"/><circle cx="551.8" cy="307.3" r="2.1" stroke="#6a4aa0" stroke-width="0.8" fill="none"/><circle cx="569.2" cy="317.6" r="2.1" stroke="#6a4aa0" stroke-width="0.8" fill="none"/><circle cx="586.7" cy="325.4" r="2.1" stroke="#6a4aa0" stroke-width="0.8" fill="none"/><circle cx="604.1" cy="329.6" r="2.1" stroke="#6a4aa0" stroke-width="0.8" fill="none"/><circle cx="621.6" cy="329.3" r="2.1" stroke="#6a4aa0" stroke-width="0.8" fill="none"/><circle cx="639.1" cy="324.1" r="2.1" stroke="#6a4aa0" stroke-width="0.8" fill="none"/><circle cx="656.5" cy="328.3" r="2.1" stroke="#6a4aa0" stroke-width="0.8" fill="none"/><circle cx="674.0" cy="323.4" r="2.1" stroke="#6a4aa0" stroke-width="0.8" fill="none"/><circle cx="691.4" cy="328.9" r="2.1" stroke="#6a4aa0" stroke-width="0.8" fill="none"/><circle cx="708.9" cy="329.8" r="2.1" stroke="#6a4aa0" stroke-width="0.8" fill="none"/><circle cx="726.4" cy="325.3" r="2.1" stroke="#6a4aa0" stroke-width="0.8" fill="none"/><circle cx="743.8" cy="327.7" r="2.1" stroke="#6a4aa0" stroke-width="0.8" fill="none"/><circle cx="761.3" cy="329.0" r="2.1" stroke="#6a4aa0" stroke-width="0.8" fill="none"/><circle cx="778.7" cy="326.3" r="2.1" stroke="#6a4aa0" stroke-width="0.8" fill="none"/>
<path d="M534.3 300.1 L551.8 296.5 L569.2 306.4 L586.7 318.3 L604.1 317.2 L621.6 319.2 L639.1 311.4 L656.5 318.1 L674.0 315.3 L691.4 316.2 L708.9 320.1 L726.4 314.5 L743.8 316.7 L761.3 320.3 L778.7 314.8" stroke="#5a5a9a" stroke-width="1.1" fill="none"/>
<circle cx="534.3" cy="300.1" r="2.1" stroke="#5a5a9a" stroke-width="0.8" fill="none"/><circle cx="551.8" cy="296.5" r="2.1" stroke="#5a5a9a" stroke-width="0.8" fill="none"/><circle cx="569.2" cy="306.4" r="2.1" stroke="#5a5a9a" stroke-width="0.8" fill="none"/><circle cx="586.7" cy="318.3" r="2.1" stroke="#5a5a9a" stroke-width="0.8" fill="none"/><circle cx="604.1" cy="317.2" r="2.1" stroke="#5a5a9a" stroke-width="0.8" fill="none"/><circle cx="621.6" cy="319.2" r="2.1" stroke="#5a5a9a" stroke-width="0.8" fill="none"/><circle cx="639.1" cy="311.4" r="2.1" stroke="#5a5a9a" stroke-width="0.8" fill="none"/><circle cx="656.5" cy="318.1" r="2.1" stroke="#5a5a9a" stroke-width="0.8" fill="none"/><circle cx="674.0" cy="315.3" r="2.1" stroke="#5a5a9a" stroke-width="0.8" fill="none"/><circle cx="691.4" cy="316.2" r="2.1" stroke="#5a5a9a" stroke-width="0.8" fill="none"/><circle cx="708.9" cy="320.1" r="2.1" stroke="#5a5a9a" stroke-width="0.8" fill="none"/><circle cx="726.4" cy="314.5" r="2.1" stroke="#5a5a9a" stroke-width="0.8" fill="none"/><circle cx="743.8" cy="316.7" r="2.1" stroke="#5a5a9a" stroke-width="0.8" fill="none"/><circle cx="761.3" cy="320.3" r="2.1" stroke="#5a5a9a" stroke-width="0.8" fill="none"/><circle cx="778.7" cy="314.8" r="2.1" stroke="#5a5a9a" stroke-width="0.8" fill="none"/>
<path d="M534.3 301.0 L551.8 298.1 L569.2 305.7 L586.7 316.6 L604.1 317.3 L621.6 317.3 L639.1 315.0 L656.5 317.0 L674.0 315.6 L691.4 317.0 L708.9 318.9 L726.4 315.6 L743.8 316.7 L761.3 320.9 L778.7 316.7" stroke="#3a6a9a" stroke-width="1.1" fill="none"/>
<circle cx="534.3" cy="301.0" r="2.1" stroke="#3a6a9a" stroke-width="0.8" fill="none"/><circle cx="551.8" cy="298.1" r="2.1" stroke="#3a6a9a" stroke-width="0.8" fill="none"/><circle cx="569.2" cy="305.7" r="2.1" stroke="#3a6a9a" stroke-width="0.8" fill="none"/><circle cx="586.7" cy="316.6" r="2.1" stroke="#3a6a9a" stroke-width="0.8" fill="none"/><circle cx="604.1" cy="317.3" r="2.1" stroke="#3a6a9a" stroke-width="0.8" fill="none"/><circle cx="621.6" cy="317.3" r="2.1" stroke="#3a6a9a" stroke-width="0.8" fill="none"/><circle cx="639.1" cy="315.0" r="2.1" stroke="#3a6a9a" stroke-width="0.8" fill="none"/><circle cx="656.5" cy="317.0" r="2.1" stroke="#3a6a9a" stroke-width="0.8" fill="none"/><circle cx="674.0" cy="315.6" r="2.1" stroke="#3a6a9a" stroke-width="0.8" fill="none"/><circle cx="691.4" cy="317.0" r="2.1" stroke="#3a6a9a" stroke-width="0.8" fill="none"/><circle cx="708.9" cy="318.9" r="2.1" stroke="#3a6a9a" stroke-width="0.8" fill="none"/><circle cx="726.4" cy="315.6" r="2.1" stroke="#3a6a9a" stroke-width="0.8" fill="none"/><circle cx="743.8" cy="316.7" r="2.1" stroke="#3a6a9a" stroke-width="0.8" fill="none"/><circle cx="761.3" cy="320.9" r="2.1" stroke="#3a6a9a" stroke-width="0.8" fill="none"/><circle cx="778.7" cy="316.7" r="2.1" stroke="#3a6a9a" stroke-width="0.8" fill="none"/>
<path d="M534.3 302.4 L551.8 299.1 L569.2 303.8 L586.7 318.0 L604.1 318.3 L621.6 318.6 L639.1 315.4 L656.5 318.6 L674.0 315.9 L691.4 316.2 L708.9 319.1 L726.4 314.2 L743.8 317.5 L761.3 321.6 L778.7 317.2" stroke="#2a5a8a" stroke-width="1.1" fill="none"/>
<circle cx="534.3" cy="302.4" r="2.1" stroke="#2a5a8a" stroke-width="0.8" fill="none"/><circle cx="551.8" cy="299.1" r="2.1" stroke="#2a5a8a" stroke-width="0.8" fill="none"/><circle cx="569.2" cy="303.8" r="2.1" stroke="#2a5a8a" stroke-width="0.8" fill="none"/><circle cx="586.7" cy="318.0" r="2.1" stroke="#2a5a8a" stroke-width="0.8" fill="none"/><circle cx="604.1" cy="318.3" r="2.1" stroke="#2a5a8a" stroke-width="0.8" fill="none"/><circle cx="621.6" cy="318.6" r="2.1" stroke="#2a5a8a" stroke-width="0.8" fill="none"/><circle cx="639.1" cy="315.4" r="2.1" stroke="#2a5a8a" stroke-width="0.8" fill="none"/><circle cx="656.5" cy="318.6" r="2.1" stroke="#2a5a8a" stroke-width="0.8" fill="none"/><circle cx="674.0" cy="315.9" r="2.1" stroke="#2a5a8a" stroke-width="0.8" fill="none"/><circle cx="691.4" cy="316.2" r="2.1" stroke="#2a5a8a" stroke-width="0.8" fill="none"/><circle cx="708.9" cy="319.1" r="2.1" stroke="#2a5a8a" stroke-width="0.8" fill="none"/><circle cx="726.4" cy="314.2" r="2.1" stroke="#2a5a8a" stroke-width="0.8" fill="none"/><circle cx="743.8" cy="317.5" r="2.1" stroke="#2a5a8a" stroke-width="0.8" fill="none"/><circle cx="761.3" cy="321.6" r="2.1" stroke="#2a5a8a" stroke-width="0.8" fill="none"/><circle cx="778.7" cy="317.2" r="2.1" stroke="#2a5a8a" stroke-width="0.8" fill="none"/>
<path d="M534.3 316.5 L551.8 304.6 L569.2 314.7 L586.7 326.1 L604.1 326.6 L621.6 326.9 L639.1 323.7 L656.5 324.8 L674.0 323.2 L691.4 325.7 L708.9 327.6 L726.4 321.4 L743.8 325.5 L761.3 330.4 L778.7 323.9" stroke="#4a3a8a" stroke-width="1.1" fill="none"/>
<circle cx="534.3" cy="316.5" r="2.1" stroke="#4a3a8a" stroke-width="0.8" fill="none"/><circle cx="551.8" cy="304.6" r="2.1" stroke="#4a3a8a" stroke-width="0.8" fill="none"/><circle cx="569.2" cy="314.7" r="2.1" stroke="#4a3a8a" stroke-width="0.8" fill="none"/><circle cx="586.7" cy="326.1" r="2.1" stroke="#4a3a8a" stroke-width="0.8" fill="none"/><circle cx="604.1" cy="326.6" r="2.1" stroke="#4a3a8a" stroke-width="0.8" fill="none"/><circle cx="621.6" cy="326.9" r="2.1" stroke="#4a3a8a" stroke-width="0.8" fill="none"/><circle cx="639.1" cy="323.7" r="2.1" stroke="#4a3a8a" stroke-width="0.8" fill="none"/><circle cx="656.5" cy="324.8" r="2.1" stroke="#4a3a8a" stroke-width="0.8" fill="none"/><circle cx="674.0" cy="323.2" r="2.1" stroke="#4a3a8a" stroke-width="0.8" fill="none"/><circle cx="691.4" cy="325.7" r="2.1" stroke="#4a3a8a" stroke-width="0.8" fill="none"/><circle cx="708.9" cy="327.6" r="2.1" stroke="#4a3a8a" stroke-width="0.8" fill="none"/><circle cx="726.4" cy="321.4" r="2.1" stroke="#4a3a8a" stroke-width="0.8" fill="none"/><circle cx="743.8" cy="325.5" r="2.1" stroke="#4a3a8a" stroke-width="0.8" fill="none"/><circle cx="761.3" cy="330.4" r="2.1" stroke="#4a3a8a" stroke-width="0.8" fill="none"/><circle cx="778.7" cy="323.9" r="2.1" stroke="#4a3a8a" stroke-width="0.8" fill="none"/>
<path d="M534.3 315.2 L551.8 305.1 L569.2 314.9 L586.7 326.0 L604.1 328.5 L621.6 326.5 L639.1 322.6 L656.5 324.8 L674.0 323.4 L691.4 326.0 L708.9 327.1 L726.4 321.6 L743.8 326.8 L761.3 329.2 L778.7 323.8" stroke="#5a3a9a" stroke-width="1.1" fill="none"/>
<circle cx="534.3" cy="315.2" r="2.1" stroke="#5a3a9a" stroke-width="0.8" fill="none"/><circle cx="551.8" cy="305.1" r="2.1" stroke="#5a3a9a" stroke-width="0.8" fill="none"/><circle cx="569.2" cy="314.9" r="2.1" stroke="#5a3a9a" stroke-width="0.8" fill="none"/><circle cx="586.7" cy="326.0" r="2.1" stroke="#5a3a9a" stroke-width="0.8" fill="none"/><circle cx="604.1" cy="328.5" r="2.1" stroke="#5a3a9a" stroke-width="0.8" fill="none"/><circle cx="621.6" cy="326.5" r="2.1" stroke="#5a3a9a" stroke-width="0.8" fill="none"/><circle cx="639.1" cy="322.6" r="2.1" stroke="#5a3a9a" stroke-width="0.8" fill="none"/><circle cx="656.5" cy="324.8" r="2.1" stroke="#5a3a9a" stroke-width="0.8" fill="none"/><circle cx="674.0" cy="323.4" r="2.1" stroke="#5a3a9a" stroke-width="0.8" fill="none"/><circle cx="691.4" cy="326.0" r="2.1" stroke="#5a3a9a" stroke-width="0.8" fill="none"/><circle cx="708.9" cy="327.1" r="2.1" stroke="#5a3a9a" stroke-width="0.8" fill="none"/><circle cx="726.4" cy="321.6" r="2.1" stroke="#5a3a9a" stroke-width="0.8" fill="none"/><circle cx="743.8" cy="326.8" r="2.1" stroke="#5a3a9a" stroke-width="0.8" fill="none"/><circle cx="761.3" cy="329.2" r="2.1" stroke="#5a3a9a" stroke-width="0.8" fill="none"/><circle cx="778.7" cy="323.8" r="2.1" stroke="#5a3a9a" stroke-width="0.8" fill="none"/>
<path d="M534.3 301.5 L551.8 299.4 L569.2 306.7 L586.7 319.2 L604.1 319.5 L621.6 317.6 L639.1 313.1 L656.5 319.6 L674.0 316.1 L691.4 316.9 L708.9 320.0 L726.4 315.4 L743.8 318.9 L761.3 323.1 L778.7 315.5" stroke="#4a6aa8" stroke-width="1.1" fill="none"/>
<circle cx="534.3" cy="301.5" r="2.1" stroke="#4a6aa8" stroke-width="0.8" fill="none"/><circle cx="551.8" cy="299.4" r="2.1" stroke="#4a6aa8" stroke-width="0.8" fill="none"/><circle cx="569.2" cy="306.7" r="2.1" stroke="#4a6aa8" stroke-width="0.8" fill="none"/><circle cx="586.7" cy="319.2" r="2.1" stroke="#4a6aa8" stroke-width="0.8" fill="none"/><circle cx="604.1" cy="319.5" r="2.1" stroke="#4a6aa8" stroke-width="0.8" fill="none"/><circle cx="621.6" cy="317.6" r="2.1" stroke="#4a6aa8" stroke-width="0.8" fill="none"/><circle cx="639.1" cy="313.1" r="2.1" stroke="#4a6aa8" stroke-width="0.8" fill="none"/><circle cx="656.5" cy="319.6" r="2.1" stroke="#4a6aa8" stroke-width="0.8" fill="none"/><circle cx="674.0" cy="316.1" r="2.1" stroke="#4a6aa8" stroke-width="0.8" fill="none"/><circle cx="691.4" cy="316.9" r="2.1" stroke="#4a6aa8" stroke-width="0.8" fill="none"/><circle cx="708.9" cy="320.0" r="2.1" stroke="#4a6aa8" stroke-width="0.8" fill="none"/><circle cx="726.4" cy="315.4" r="2.1" stroke="#4a6aa8" stroke-width="0.8" fill="none"/><circle cx="743.8" cy="318.9" r="2.1" stroke="#4a6aa8" stroke-width="0.8" fill="none"/><circle cx="761.3" cy="323.1" r="2.1" stroke="#4a6aa8" stroke-width="0.8" fill="none"/><circle cx="778.7" cy="315.5" r="2.1" stroke="#4a6aa8" stroke-width="0.8" fill="none"/>
<path d="M534.3 305.8 L551.8 296.3 L569.2 306.6 L586.7 319.0 L604.1 320.0 L621.6 319.9 L639.1 316.0 L656.5 318.2 L674.0 316.5 L691.4 317.4 L708.9 320.3 L726.4 316.1 L743.8 319.4 L761.3 321.3 L778.7 317.7" stroke="#3a7a9a" stroke-width="1.1" fill="none"/>
<circle cx="534.3" cy="305.8" r="2.1" stroke="#3a7a9a" stroke-width="0.8" fill="none"/><circle cx="551.8" cy="296.3" r="2.1" stroke="#3a7a9a" stroke-width="0.8" fill="none"/><circle cx="569.2" cy="306.6" r="2.1" stroke="#3a7a9a" stroke-width="0.8" fill="none"/><circle cx="586.7" cy="319.0" r="2.1" stroke="#3a7a9a" stroke-width="0.8" fill="none"/><circle cx="604.1" cy="320.0" r="2.1" stroke="#3a7a9a" stroke-width="0.8" fill="none"/><circle cx="621.6" cy="319.9" r="2.1" stroke="#3a7a9a" stroke-width="0.8" fill="none"/><circle cx="639.1" cy="316.0" r="2.1" stroke="#3a7a9a" stroke-width="0.8" fill="none"/><circle cx="656.5" cy="318.2" r="2.1" stroke="#3a7a9a" stroke-width="0.8" fill="none"/><circle cx="674.0" cy="316.5" r="2.1" stroke="#3a7a9a" stroke-width="0.8" fill="none"/><circle cx="691.4" cy="317.4" r="2.1" stroke="#3a7a9a" stroke-width="0.8" fill="none"/><circle cx="708.9" cy="320.3" r="2.1" stroke="#3a7a9a" stroke-width="0.8" fill="none"/><circle cx="726.4" cy="316.1" r="2.1" stroke="#3a7a9a" stroke-width="0.8" fill="none"/><circle cx="743.8" cy="319.4" r="2.1" stroke="#3a7a9a" stroke-width="0.8" fill="none"/><circle cx="761.3" cy="321.3" r="2.1" stroke="#3a7a9a" stroke-width="0.8" fill="none"/><circle cx="778.7" cy="317.7" r="2.1" stroke="#3a7a9a" stroke-width="0.8" fill="none"/>
<path d="M534.3 304.1 L551.8 298.8 L569.2 308.7 L586.7 318.7 L604.1 318.5 L621.6 320.8 L639.1 315.9 L656.5 318.0 L674.0 316.3 L691.4 319.3 L708.9 321.0 L726.4 316.4 L743.8 319.1 L761.3 322.5 L778.7 315.6" stroke="#4a6aa8" stroke-width="1.1" fill="none"/>
<circle cx="534.3" cy="304.1" r="2.1" stroke="#4a6aa8" stroke-width="0.8" fill="none"/><circle cx="551.8" cy="298.8" r="2.1" stroke="#4a6aa8" stroke-width="0.8" fill="none"/><circle cx="569.2" cy="308.7" r="2.1" stroke="#4a6aa8" stroke-width="0.8" fill="none"/><circle cx="586.7" cy="318.7" r="2.1" stroke="#4a6aa8" stroke-width="0.8" fill="none"/><circle cx="604.1" cy="318.5" r="2.1" stroke="#4a6aa8" stroke-width="0.8" fill="none"/><circle cx="621.6" cy="320.8" r="2.1" stroke="#4a6aa8" stroke-width="0.8" fill="none"/><circle cx="639.1" cy="315.9" r="2.1" stroke="#4a6aa8" stroke-width="0.8" fill="none"/><circle cx="656.5" cy="318.0" r="2.1" stroke="#4a6aa8" stroke-width="0.8" fill="none"/><circle cx="674.0" cy="316.3" r="2.1" stroke="#4a6aa8" stroke-width="0.8" fill="none"/><circle cx="691.4" cy="319.3" r="2.1" stroke="#4a6aa8" stroke-width="0.8" fill="none"/><circle cx="708.9" cy="321.0" r="2.1" stroke="#4a6aa8" stroke-width="0.8" fill="none"/><circle cx="726.4" cy="316.4" r="2.1" stroke="#4a6aa8" stroke-width="0.8" fill="none"/><circle cx="743.8" cy="319.1" r="2.1" stroke="#4a6aa8" stroke-width="0.8" fill="none"/><circle cx="761.3" cy="322.5" r="2.1" stroke="#4a6aa8" stroke-width="0.8" fill="none"/><circle cx="778.7" cy="315.6" r="2.1" stroke="#4a6aa8" stroke-width="0.8" fill="none"/>
<path d="M534.3 302.5 L551.8 296.6 L569.2 308.5 L586.7 319.6 L604.1 320.4 L621.6 319.1 L639.1 316.2 L656.5 317.7 L674.0 314.6 L691.4 319.4 L708.9 320.1 L726.4 316.8 L743.8 320.8 L761.3 321.2 L778.7 317.7" stroke="#3a6a9a" stroke-width="1.1" fill="none"/>
<circle cx="534.3" cy="302.5" r="2.1" stroke="#3a6a9a" stroke-width="0.8" fill="none"/><circle cx="551.8" cy="296.6" r="2.1" stroke="#3a6a9a" stroke-width="0.8" fill="none"/><circle cx="569.2" cy="308.5" r="2.1" stroke="#3a6a9a" stroke-width="0.8" fill="none"/><circle cx="586.7" cy="319.6" r="2.1" stroke="#3a6a9a" stroke-width="0.8" fill="none"/><circle cx="604.1" cy="320.4" r="2.1" stroke="#3a6a9a" stroke-width="0.8" fill="none"/><circle cx="621.6" cy="319.1" r="2.1" stroke="#3a6a9a" stroke-width="0.8" fill="none"/><circle cx="639.1" cy="316.2" r="2.1" stroke="#3a6a9a" stroke-width="0.8" fill="none"/><circle cx="656.5" cy="317.7" r="2.1" stroke="#3a6a9a" stroke-width="0.8" fill="none"/><circle cx="674.0" cy="314.6" r="2.1" stroke="#3a6a9a" stroke-width="0.8" fill="none"/><circle cx="691.4" cy="319.4" r="2.1" stroke="#3a6a9a" stroke-width="0.8" fill="none"/><circle cx="708.9" cy="320.1" r="2.1" stroke="#3a6a9a" stroke-width="0.8" fill="none"/><circle cx="726.4" cy="316.8" r="2.1" stroke="#3a6a9a" stroke-width="0.8" fill="none"/><circle cx="743.8" cy="320.8" r="2.1" stroke="#3a6a9a" stroke-width="0.8" fill="none"/><circle cx="761.3" cy="321.2" r="2.1" stroke="#3a6a9a" stroke-width="0.8" fill="none"/><circle cx="778.7" cy="317.7" r="2.1" stroke="#3a6a9a" stroke-width="0.8" fill="none"/>
<path d="M534.3 311.8 L551.8 306.0 L569.2 313.9 L586.7 326.2 L604.1 326.8 L621.6 324.9 L639.1 321.7 L656.5 324.4 L674.0 320.2 L691.4 325.4 L708.9 327.3 L726.4 321.9 L743.8 325.2 L761.3 328.0 L778.7 324.4" stroke="#5a2a6a" stroke-width="1.1" fill="none"/>
<circle cx="534.3" cy="311.8" r="2.1" stroke="#5a2a6a" stroke-width="0.8" fill="none"/><circle cx="551.8" cy="306.0" r="2.1" stroke="#5a2a6a" stroke-width="0.8" fill="none"/><circle cx="569.2" cy="313.9" r="2.1" stroke="#5a2a6a" stroke-width="0.8" fill="none"/><circle cx="586.7" cy="326.2" r="2.1" stroke="#5a2a6a" stroke-width="0.8" fill="none"/><circle cx="604.1" cy="326.8" r="2.1" stroke="#5a2a6a" stroke-width="0.8" fill="none"/><circle cx="621.6" cy="324.9" r="2.1" stroke="#5a2a6a" stroke-width="0.8" fill="none"/><circle cx="639.1" cy="321.7" r="2.1" stroke="#5a2a6a" stroke-width="0.8" fill="none"/><circle cx="656.5" cy="324.4" r="2.1" stroke="#5a2a6a" stroke-width="0.8" fill="none"/><circle cx="674.0" cy="320.2" r="2.1" stroke="#5a2a6a" stroke-width="0.8" fill="none"/><circle cx="691.4" cy="325.4" r="2.1" stroke="#5a2a6a" stroke-width="0.8" fill="none"/><circle cx="708.9" cy="327.3" r="2.1" stroke="#5a2a6a" stroke-width="0.8" fill="none"/><circle cx="726.4" cy="321.9" r="2.1" stroke="#5a2a6a" stroke-width="0.8" fill="none"/><circle cx="743.8" cy="325.2" r="2.1" stroke="#5a2a6a" stroke-width="0.8" fill="none"/><circle cx="761.3" cy="328.0" r="2.1" stroke="#5a2a6a" stroke-width="0.8" fill="none"/><circle cx="778.7" cy="324.4" r="2.1" stroke="#5a2a6a" stroke-width="0.8" fill="none"/>
<path d="M534.3 305.3 L551.8 298.3 L569.2 308.1 L586.7 319.0 L604.1 320.9 L621.6 321.3 L639.1 315.9 L656.5 319.7 L674.0 314.5 L691.4 319.1 L708.9 321.9 L726.4 317.0 L743.8 320.8 L761.3 323.5 L778.7 318.9" stroke="#5a2a6a" stroke-width="1.1" fill="none"/>
<circle cx="534.3" cy="305.3" r="2.1" stroke="#5a2a6a" stroke-width="0.8" fill="none"/><circle cx="551.8" cy="298.3" r="2.1" stroke="#5a2a6a" stroke-width="0.8" fill="none"/><circle cx="569.2" cy="308.1" r="2.1" stroke="#5a2a6a" stroke-width="0.8" fill="none"/><circle cx="586.7" cy="319.0" r="2.1" stroke="#5a2a6a" stroke-width="0.8" fill="none"/><circle cx="604.1" cy="320.9" r="2.1" stroke="#5a2a6a" stroke-width="0.8" fill="none"/><circle cx="621.6" cy="321.3" r="2.1" stroke="#5a2a6a" stroke-width="0.8" fill="none"/><circle cx="639.1" cy="315.9" r="2.1" stroke="#5a2a6a" stroke-width="0.8" fill="none"/><circle cx="656.5" cy="319.7" r="2.1" stroke="#5a2a6a" stroke-width="0.8" fill="none"/><circle cx="674.0" cy="314.5" r="2.1" stroke="#5a2a6a" stroke-width="0.8" fill="none"/><circle cx="691.4" cy="319.1" r="2.1" stroke="#5a2a6a" stroke-width="0.8" fill="none"/><circle cx="708.9" cy="321.9" r="2.1" stroke="#5a2a6a" stroke-width="0.8" fill="none"/><circle cx="726.4" cy="317.0" r="2.1" stroke="#5a2a6a" stroke-width="0.8" fill="none"/><circle cx="743.8" cy="320.8" r="2.1" stroke="#5a2a6a" stroke-width="0.8" fill="none"/><circle cx="761.3" cy="323.5" r="2.1" stroke="#5a2a6a" stroke-width="0.8" fill="none"/><circle cx="778.7" cy="318.9" r="2.1" stroke="#5a2a6a" stroke-width="0.8" fill="none"/>
<path d="M534.3 313.2 L551.8 306.4 L569.2 314.3 L586.7 322.7 L604.1 325.1 L621.6 325.2 L639.1 320.9 L656.5 323.3 L674.0 320.6 L691.4 325.6 L708.9 325.8 L726.4 321.9 L743.8 325.0 L761.3 328.5 L778.7 323.3" stroke="#2a3a7a" stroke-width="1.1" fill="none"/>
<circle cx="534.3" cy="313.2" r="2.1" stroke="#2a3a7a" stroke-width="0.8" fill="none"/><circle cx="551.8" cy="306.4" r="2.1" stroke="#2a3a7a" stroke-width="0.8" fill="none"/><circle cx="569.2" cy="314.3" r="2.1" stroke="#2a3a7a" stroke-width="0.8" fill="none"/><circle cx="586.7" cy="322.7" r="2.1" stroke="#2a3a7a" stroke-width="0.8" fill="none"/><circle cx="604.1" cy="325.1" r="2.1" stroke="#2a3a7a" stroke-width="0.8" fill="none"/><circle cx="621.6" cy="325.2" r="2.1" stroke="#2a3a7a" stroke-width="0.8" fill="none"/><circle cx="639.1" cy="320.9" r="2.1" stroke="#2a3a7a" stroke-width="0.8" fill="none"/><circle cx="656.5" cy="323.3" r="2.1" stroke="#2a3a7a" stroke-width="0.8" fill="none"/><circle cx="674.0" cy="320.6" r="2.1" stroke="#2a3a7a" stroke-width="0.8" fill="none"/><circle cx="691.4" cy="325.6" r="2.1" stroke="#2a3a7a" stroke-width="0.8" fill="none"/><circle cx="708.9" cy="325.8" r="2.1" stroke="#2a3a7a" stroke-width="0.8" fill="none"/><circle cx="726.4" cy="321.9" r="2.1" stroke="#2a3a7a" stroke-width="0.8" fill="none"/><circle cx="743.8" cy="325.0" r="2.1" stroke="#2a3a7a" stroke-width="0.8" fill="none"/><circle cx="761.3" cy="328.5" r="2.1" stroke="#2a3a7a" stroke-width="0.8" fill="none"/><circle cx="778.7" cy="323.3" r="2.1" stroke="#2a3a7a" stroke-width="0.8" fill="none"/>
<path d="M534.3 314.5 L551.8 303.0 L569.2 312.3 L586.7 323.8 L604.1 324.4 L621.6 325.6 L639.1 321.2 L656.5 323.1 L674.0 321.6 L691.4 324.6 L708.9 325.7 L726.4 321.8 L743.8 325.4 L761.3 327.2 L778.7 322.7" stroke="#a03a4a" stroke-width="1.1" fill="none"/>
<circle cx="534.3" cy="314.5" r="2.1" stroke="#a03a4a" stroke-width="0.8" fill="none"/><circle cx="551.8" cy="303.0" r="2.1" stroke="#a03a4a" stroke-width="0.8" fill="none"/><circle cx="569.2" cy="312.3" r="2.1" stroke="#a03a4a" stroke-width="0.8" fill="none"/><circle cx="586.7" cy="323.8" r="2.1" stroke="#a03a4a" stroke-width="0.8" fill="none"/><circle cx="604.1" cy="324.4" r="2.1" stroke="#a03a4a" stroke-width="0.8" fill="none"/><circle cx="621.6" cy="325.6" r="2.1" stroke="#a03a4a" stroke-width="0.8" fill="none"/><circle cx="639.1" cy="321.2" r="2.1" stroke="#a03a4a" stroke-width="0.8" fill="none"/><circle cx="656.5" cy="323.1" r="2.1" stroke="#a03a4a" stroke-width="0.8" fill="none"/><circle cx="674.0" cy="321.6" r="2.1" stroke="#a03a4a" stroke-width="0.8" fill="none"/><circle cx="691.4" cy="324.6" r="2.1" stroke="#a03a4a" stroke-width="0.8" fill="none"/><circle cx="708.9" cy="325.7" r="2.1" stroke="#a03a4a" stroke-width="0.8" fill="none"/><circle cx="726.4" cy="321.8" r="2.1" stroke="#a03a4a" stroke-width="0.8" fill="none"/><circle cx="743.8" cy="325.4" r="2.1" stroke="#a03a4a" stroke-width="0.8" fill="none"/><circle cx="761.3" cy="327.2" r="2.1" stroke="#a03a4a" stroke-width="0.8" fill="none"/><circle cx="778.7" cy="322.7" r="2.1" stroke="#a03a4a" stroke-width="0.8" fill="none"/>
<path d="M534.3 303.8 L551.8 298.4 L569.2 308.1 L586.7 319.7 L604.1 320.0 L621.6 318.7 L639.1 315.2 L656.5 320.6 L674.0 315.6 L691.4 320.2 L708.9 321.5 L726.4 315.8 L743.8 318.6 L761.3 324.6 L778.7 318.9" stroke="#4a2a7a" stroke-width="1.1" fill="none"/>
<circle cx="534.3" cy="303.8" r="2.1" stroke="#4a2a7a" stroke-width="0.8" fill="none"/><circle cx="551.8" cy="298.4" r="2.1" stroke="#4a2a7a" stroke-width="0.8" fill="none"/><circle cx="569.2" cy="308.1" r="2.1" stroke="#4a2a7a" stroke-width="0.8" fill="none"/><circle cx="586.7" cy="319.7" r="2.1" stroke="#4a2a7a" stroke-width="0.8" fill="none"/><circle cx="604.1" cy="320.0" r="2.1" stroke="#4a2a7a" stroke-width="0.8" fill="none"/><circle cx="621.6" cy="318.7" r="2.1" stroke="#4a2a7a" stroke-width="0.8" fill="none"/><circle cx="639.1" cy="315.2" r="2.1" stroke="#4a2a7a" stroke-width="0.8" fill="none"/><circle cx="656.5" cy="320.6" r="2.1" stroke="#4a2a7a" stroke-width="0.8" fill="none"/><circle cx="674.0" cy="315.6" r="2.1" stroke="#4a2a7a" stroke-width="0.8" fill="none"/><circle cx="691.4" cy="320.2" r="2.1" stroke="#4a2a7a" stroke-width="0.8" fill="none"/><circle cx="708.9" cy="321.5" r="2.1" stroke="#4a2a7a" stroke-width="0.8" fill="none"/><circle cx="726.4" cy="315.8" r="2.1" stroke="#4a2a7a" stroke-width="0.8" fill="none"/><circle cx="743.8" cy="318.6" r="2.1" stroke="#4a2a7a" stroke-width="0.8" fill="none"/><circle cx="761.3" cy="324.6" r="2.1" stroke="#4a2a7a" stroke-width="0.8" fill="none"/><circle cx="778.7" cy="318.9" r="2.1" stroke="#4a2a7a" stroke-width="0.8" fill="none"/>
<path d="M534.3 305.4 L551.8 299.9 L569.2 308.4 L586.7 319.6 L604.1 319.4 L621.6 319.6 L639.1 314.8 L656.5 318.1 L674.0 315.3 L691.4 320.0 L708.9 322.8 L726.4 315.1 L743.8 320.0 L761.3 322.6 L778.7 317.6" stroke="#3a3a8a" stroke-width="1.1" fill="none"/>
<circle cx="534.3" cy="305.4" r="2.1" stroke="#3a3a8a" stroke-width="0.8" fill="none"/><circle cx="551.8" cy="299.9" r="2.1" stroke="#3a3a8a" stroke-width="0.8" fill="none"/><circle cx="569.2" cy="308.4" r="2.1" stroke="#3a3a8a" stroke-width="0.8" fill="none"/><circle cx="586.7" cy="319.6" r="2.1" stroke="#3a3a8a" stroke-width="0.8" fill="none"/><circle cx="604.1" cy="319.4" r="2.1" stroke="#3a3a8a" stroke-width="0.8" fill="none"/><circle cx="621.6" cy="319.6" r="2.1" stroke="#3a3a8a" stroke-width="0.8" fill="none"/><circle cx="639.1" cy="314.8" r="2.1" stroke="#3a3a8a" stroke-width="0.8" fill="none"/><circle cx="656.5" cy="318.1" r="2.1" stroke="#3a3a8a" stroke-width="0.8" fill="none"/><circle cx="674.0" cy="315.3" r="2.1" stroke="#3a3a8a" stroke-width="0.8" fill="none"/><circle cx="691.4" cy="320.0" r="2.1" stroke="#3a3a8a" stroke-width="0.8" fill="none"/><circle cx="708.9" cy="322.8" r="2.1" stroke="#3a3a8a" stroke-width="0.8" fill="none"/><circle cx="726.4" cy="315.1" r="2.1" stroke="#3a3a8a" stroke-width="0.8" fill="none"/><circle cx="743.8" cy="320.0" r="2.1" stroke="#3a3a8a" stroke-width="0.8" fill="none"/><circle cx="761.3" cy="322.6" r="2.1" stroke="#3a3a8a" stroke-width="0.8" fill="none"/><circle cx="778.7" cy="317.6" r="2.1" stroke="#3a3a8a" stroke-width="0.8" fill="none"/>
<path d="M534.3 305.5 L551.8 300.8 L569.2 308.8 L586.7 320.9 L604.1 321.1 L621.6 319.5 L639.1 315.6 L656.5 321.0 L674.0 316.2 L691.4 318.3 L708.9 322.0 L726.4 318.4 L743.8 319.7 L761.3 322.7 L778.7 319.0" stroke="#8a3050" stroke-width="1.1" fill="none"/>
<circle cx="534.3" cy="305.5" r="2.1" stroke="#8a3050" stroke-width="0.8" fill="none"/><circle cx="551.8" cy="300.8" r="2.1" stroke="#8a3050" stroke-width="0.8" fill="none"/><circle cx="569.2" cy="308.8" r="2.1" stroke="#8a3050" stroke-width="0.8" fill="none"/><circle cx="586.7" cy="320.9" r="2.1" stroke="#8a3050" stroke-width="0.8" fill="none"/><circle cx="604.1" cy="321.1" r="2.1" stroke="#8a3050" stroke-width="0.8" fill="none"/><circle cx="621.6" cy="319.5" r="2.1" stroke="#8a3050" stroke-width="0.8" fill="none"/><circle cx="639.1" cy="315.6" r="2.1" stroke="#8a3050" stroke-width="0.8" fill="none"/><circle cx="656.5" cy="321.0" r="2.1" stroke="#8a3050" stroke-width="0.8" fill="none"/><circle cx="674.0" cy="316.2" r="2.1" stroke="#8a3050" stroke-width="0.8" fill="none"/><circle cx="691.4" cy="318.3" r="2.1" stroke="#8a3050" stroke-width="0.8" fill="none"/><circle cx="708.9" cy="322.0" r="2.1" stroke="#8a3050" stroke-width="0.8" fill="none"/><circle cx="726.4" cy="318.4" r="2.1" stroke="#8a3050" stroke-width="0.8" fill="none"/><circle cx="743.8" cy="319.7" r="2.1" stroke="#8a3050" stroke-width="0.8" fill="none"/><circle cx="761.3" cy="322.7" r="2.1" stroke="#8a3050" stroke-width="0.8" fill="none"/><circle cx="778.7" cy="319.0" r="2.1" stroke="#8a3050" stroke-width="0.8" fill="none"/>
<path d="M534.3 313.0 L551.8 302.6 L569.2 311.4 L586.7 324.0 L604.1 324.7 L621.6 324.0 L639.1 318.2 L656.5 324.9 L674.0 319.7 L691.4 324.0 L708.9 326.5 L726.4 321.7 L743.8 324.7 L761.3 326.5 L778.7 323.2" stroke="#2a3a7a" stroke-width="1.1" fill="none"/>
<circle cx="534.3" cy="313.0" r="2.1" stroke="#2a3a7a" stroke-width="0.8" fill="none"/><circle cx="551.8" cy="302.6" r="2.1" stroke="#2a3a7a" stroke-width="0.8" fill="none"/><circle cx="569.2" cy="311.4" r="2.1" stroke="#2a3a7a" stroke-width="0.8" fill="none"/><circle cx="586.7" cy="324.0" r="2.1" stroke="#2a3a7a" stroke-width="0.8" fill="none"/><circle cx="604.1" cy="324.7" r="2.1" stroke="#2a3a7a" stroke-width="0.8" fill="none"/><circle cx="621.6" cy="324.0" r="2.1" stroke="#2a3a7a" stroke-width="0.8" fill="none"/><circle cx="639.1" cy="318.2" r="2.1" stroke="#2a3a7a" stroke-width="0.8" fill="none"/><circle cx="656.5" cy="324.9" r="2.1" stroke="#2a3a7a" stroke-width="0.8" fill="none"/><circle cx="674.0" cy="319.7" r="2.1" stroke="#2a3a7a" stroke-width="0.8" fill="none"/><circle cx="691.4" cy="324.0" r="2.1" stroke="#2a3a7a" stroke-width="0.8" fill="none"/><circle cx="708.9" cy="326.5" r="2.1" stroke="#2a3a7a" stroke-width="0.8" fill="none"/><circle cx="726.4" cy="321.7" r="2.1" stroke="#2a3a7a" stroke-width="0.8" fill="none"/><circle cx="743.8" cy="324.7" r="2.1" stroke="#2a3a7a" stroke-width="0.8" fill="none"/><circle cx="761.3" cy="326.5" r="2.1" stroke="#2a3a7a" stroke-width="0.8" fill="none"/><circle cx="778.7" cy="323.2" r="2.1" stroke="#2a3a7a" stroke-width="0.8" fill="none"/>
<path d="M534.3 309.1 L551.8 300.7 L569.2 307.9 L586.7 321.6 L604.1 322.1 L621.6 322.3 L639.1 316.9 L656.5 318.8 L674.0 318.6 L691.4 320.0 L708.9 322.0 L726.4 316.0 L743.8 321.9 L761.3 322.8 L778.7 317.6" stroke="#7a2a6a" stroke-width="1.1" fill="none"/>
<circle cx="534.3" cy="309.1" r="2.1" stroke="#7a2a6a" stroke-width="0.8" fill="none"/><circle cx="551.8" cy="300.7" r="2.1" stroke="#7a2a6a" stroke-width="0.8" fill="none"/><circle cx="569.2" cy="307.9" r="2.1" stroke="#7a2a6a" stroke-width="0.8" fill="none"/><circle cx="586.7" cy="321.6" r="2.1" stroke="#7a2a6a" stroke-width="0.8" fill="none"/><circle cx="604.1" cy="322.1" r="2.1" stroke="#7a2a6a" stroke-width="0.8" fill="none"/><circle cx="621.6" cy="322.3" r="2.1" stroke="#7a2a6a" stroke-width="0.8" fill="none"/><circle cx="639.1" cy="316.9" r="2.1" stroke="#7a2a6a" stroke-width="0.8" fill="none"/><circle cx="656.5" cy="318.8" r="2.1" stroke="#7a2a6a" stroke-width="0.8" fill="none"/><circle cx="674.0" cy="318.6" r="2.1" stroke="#7a2a6a" stroke-width="0.8" fill="none"/><circle cx="691.4" cy="320.0" r="2.1" stroke="#7a2a6a" stroke-width="0.8" fill="none"/><circle cx="708.9" cy="322.0" r="2.1" stroke="#7a2a6a" stroke-width="0.8" fill="none"/><circle cx="726.4" cy="316.0" r="2.1" stroke="#7a2a6a" stroke-width="0.8" fill="none"/><circle cx="743.8" cy="321.9" r="2.1" stroke="#7a2a6a" stroke-width="0.8" fill="none"/><circle cx="761.3" cy="322.8" r="2.1" stroke="#7a2a6a" stroke-width="0.8" fill="none"/><circle cx="778.7" cy="317.6" r="2.1" stroke="#7a2a6a" stroke-width="0.8" fill="none"/>
<path d="M534.3 309.3 L551.8 304.9 L569.2 312.3 L586.7 322.7 L604.1 325.4 L621.6 323.5 L639.1 320.3 L656.5 323.4 L674.0 320.2 L691.4 322.9 L708.9 326.1 L726.4 320.1 L743.8 324.1 L761.3 327.8 L778.7 321.6" stroke="#2a4a8a" stroke-width="1.1" fill="none"/>
<circle cx="534.3" cy="309.3" r="2.1" stroke="#2a4a8a" stroke-width="0.8" fill="none"/><circle cx="551.8" cy="304.9" r="2.1" stroke="#2a4a8a" stroke-width="0.8" fill="none"/><circle cx="569.2" cy="312.3" r="2.1" stroke="#2a4a8a" stroke-width="0.8" fill="none"/><circle cx="586.7" cy="322.7" r="2.1" stroke="#2a4a8a" stroke-width="0.8" fill="none"/><circle cx="604.1" cy="325.4" r="2.1" stroke="#2a4a8a" stroke-width="0.8" fill="none"/><circle cx="621.6" cy="323.5" r="2.1" stroke="#2a4a8a" stroke-width="0.8" fill="none"/><circle cx="639.1" cy="320.3" r="2.1" stroke="#2a4a8a" stroke-width="0.8" fill="none"/><circle cx="656.5" cy="323.4" r="2.1" stroke="#2a4a8a" stroke-width="0.8" fill="none"/><circle cx="674.0" cy="320.2" r="2.1" stroke="#2a4a8a" stroke-width="0.8" fill="none"/><circle cx="691.4" cy="322.9" r="2.1" stroke="#2a4a8a" stroke-width="0.8" fill="none"/><circle cx="708.9" cy="326.1" r="2.1" stroke="#2a4a8a" stroke-width="0.8" fill="none"/><circle cx="726.4" cy="320.1" r="2.1" stroke="#2a4a8a" stroke-width="0.8" fill="none"/><circle cx="743.8" cy="324.1" r="2.1" stroke="#2a4a8a" stroke-width="0.8" fill="none"/><circle cx="761.3" cy="327.8" r="2.1" stroke="#2a4a8a" stroke-width="0.8" fill="none"/><circle cx="778.7" cy="321.6" r="2.1" stroke="#2a4a8a" stroke-width="0.8" fill="none"/>
<path d="M534.3 313.7 L551.8 303.3 L569.2 314.7 L586.7 322.7 L604.1 325.2 L621.6 324.0 L639.1 319.2 L656.5 323.6 L674.0 320.0 L691.4 323.7 L708.9 325.3 L726.4 320.6 L743.8 323.7 L761.3 327.1 L778.7 322.5" stroke="#3a3a8a" stroke-width="1.1" fill="none"/>
<circle cx="534.3" cy="313.7" r="2.1" stroke="#3a3a8a" stroke-width="0.8" fill="none"/><circle cx="551.8" cy="303.3" r="2.1" stroke="#3a3a8a" stroke-width="0.8" fill="none"/><circle cx="569.2" cy="314.7" r="2.1" stroke="#3a3a8a" stroke-width="0.8" fill="none"/><circle cx="586.7" cy="322.7" r="2.1" stroke="#3a3a8a" stroke-width="0.8" fill="none"/><circle cx="604.1" cy="325.2" r="2.1" stroke="#3a3a8a" stroke-width="0.8" fill="none"/><circle cx="621.6" cy="324.0" r="2.1" stroke="#3a3a8a" stroke-width="0.8" fill="none"/><circle cx="639.1" cy="319.2" r="2.1" stroke="#3a3a8a" stroke-width="0.8" fill="none"/><circle cx="656.5" cy="323.6" r="2.1" stroke="#3a3a8a" stroke-width="0.8" fill="none"/><circle cx="674.0" cy="320.0" r="2.1" stroke="#3a3a8a" stroke-width="0.8" fill="none"/><circle cx="691.4" cy="323.7" r="2.1" stroke="#3a3a8a" stroke-width="0.8" fill="none"/><circle cx="708.9" cy="325.3" r="2.1" stroke="#3a3a8a" stroke-width="0.8" fill="none"/><circle cx="726.4" cy="320.6" r="2.1" stroke="#3a3a8a" stroke-width="0.8" fill="none"/><circle cx="743.8" cy="323.7" r="2.1" stroke="#3a3a8a" stroke-width="0.8" fill="none"/><circle cx="761.3" cy="327.1" r="2.1" stroke="#3a3a8a" stroke-width="0.8" fill="none"/><circle cx="778.7" cy="322.5" r="2.1" stroke="#3a3a8a" stroke-width="0.8" fill="none"/>
<path d="M534.3 306.3 L551.8 300.7 L569.2 308.8 L586.7 319.9 L604.1 322.5 L621.6 321.1 L639.1 318.1 L656.5 318.8 L674.0 317.0 L691.4 318.5 L708.9 323.9 L726.4 316.8 L743.8 320.2 L761.3 324.6 L778.7 320.1" stroke="#3a3a8a" stroke-width="1.1" fill="none"/>
<circle cx="534.3" cy="306.3" r="2.1" stroke="#3a3a8a" stroke-width="0.8" fill="none"/><circle cx="551.8" cy="300.7" r="2.1" stroke="#3a3a8a" stroke-width="0.8" fill="none"/><circle cx="569.2" cy="308.8" r="2.1" stroke="#3a3a8a" stroke-width="0.8" fill="none"/><circle cx="586.7" cy="319.9" r="2.1" stroke="#3a3a8a" stroke-width="0.8" fill="none"/><circle cx="604.1" cy="322.5" r="2.1" stroke="#3a3a8a" stroke-width="0.8" fill="none"/><circle cx="621.6" cy="321.1" r="2.1" stroke="#3a3a8a" stroke-width="0.8" fill="none"/><circle cx="639.1" cy="318.1" r="2.1" stroke="#3a3a8a" stroke-width="0.8" fill="none"/><circle cx="656.5" cy="318.8" r="2.1" stroke="#3a3a8a" stroke-width="0.8" fill="none"/><circle cx="674.0" cy="317.0" r="2.1" stroke="#3a3a8a" stroke-width="0.8" fill="none"/><circle cx="691.4" cy="318.5" r="2.1" stroke="#3a3a8a" stroke-width="0.8" fill="none"/><circle cx="708.9" cy="323.9" r="2.1" stroke="#3a3a8a" stroke-width="0.8" fill="none"/><circle cx="726.4" cy="316.8" r="2.1" stroke="#3a3a8a" stroke-width="0.8" fill="none"/><circle cx="743.8" cy="320.2" r="2.1" stroke="#3a3a8a" stroke-width="0.8" fill="none"/><circle cx="761.3" cy="324.6" r="2.1" stroke="#3a3a8a" stroke-width="0.8" fill="none"/><circle cx="778.7" cy="320.1" r="2.1" stroke="#3a3a8a" stroke-width="0.8" fill="none"/>
<path d="M534.3 308.5 L551.8 300.1 L569.2 307.5 L586.7 320.8 L604.1 322.3 L621.6 321.6 L639.1 315.9 L656.5 319.1 L674.0 318.5 L691.4 318.7 L708.9 322.4 L726.4 318.3 L743.8 320.7 L761.3 323.2 L778.7 319.0" stroke="#7a2a6a" stroke-width="1.1" fill="none"/>
<circle cx="534.3" cy="308.5" r="2.1" stroke="#7a2a6a" stroke-width="0.8" fill="none"/><circle cx="551.8" cy="300.1" r="2.1" stroke="#7a2a6a" stroke-width="0.8" fill="none"/><circle cx="569.2" cy="307.5" r="2.1" stroke="#7a2a6a" stroke-width="0.8" fill="none"/><circle cx="586.7" cy="320.8" r="2.1" stroke="#7a2a6a" stroke-width="0.8" fill="none"/><circle cx="604.1" cy="322.3" r="2.1" stroke="#7a2a6a" stroke-width="0.8" fill="none"/><circle cx="621.6" cy="321.6" r="2.1" stroke="#7a2a6a" stroke-width="0.8" fill="none"/><circle cx="639.1" cy="315.9" r="2.1" stroke="#7a2a6a" stroke-width="0.8" fill="none"/><circle cx="656.5" cy="319.1" r="2.1" stroke="#7a2a6a" stroke-width="0.8" fill="none"/><circle cx="674.0" cy="318.5" r="2.1" stroke="#7a2a6a" stroke-width="0.8" fill="none"/><circle cx="691.4" cy="318.7" r="2.1" stroke="#7a2a6a" stroke-width="0.8" fill="none"/><circle cx="708.9" cy="322.4" r="2.1" stroke="#7a2a6a" stroke-width="0.8" fill="none"/><circle cx="726.4" cy="318.3" r="2.1" stroke="#7a2a6a" stroke-width="0.8" fill="none"/><circle cx="743.8" cy="320.7" r="2.1" stroke="#7a2a6a" stroke-width="0.8" fill="none"/><circle cx="761.3" cy="323.2" r="2.1" stroke="#7a2a6a" stroke-width="0.8" fill="none"/><circle cx="778.7" cy="319.0" r="2.1" stroke="#7a2a6a" stroke-width="0.8" fill="none"/>
<path d="M534.3 311.5 L551.8 301.5 L569.2 312.8 L586.7 323.4 L604.1 324.8 L621.6 325.0 L639.1 317.7 L656.5 324.7 L674.0 319.8 L691.4 321.6 L708.9 325.9 L726.4 319.8 L743.8 324.2 L761.3 327.4 L778.7 322.6" stroke="#2a4a8a" stroke-width="1.1" fill="none"/>
<circle cx="534.3" cy="311.5" r="2.1" stroke="#2a4a8a" stroke-width="0.8" fill="none"/><circle cx="551.8" cy="301.5" r="2.1" stroke="#2a4a8a" stroke-width="0.8" fill="none"/><circle cx="569.2" cy="312.8" r="2.1" stroke="#2a4a8a" stroke-width="0.8" fill="none"/><circle cx="586.7" cy="323.4" r="2.1" stroke="#2a4a8a" stroke-width="0.8" fill="none"/><circle cx="604.1" cy="324.8" r="2.1" stroke="#2a4a8a" stroke-width="0.8" fill="none"/><circle cx="621.6" cy="325.0" r="2.1" stroke="#2a4a8a" stroke-width="0.8" fill="none"/><circle cx="639.1" cy="317.7" r="2.1" stroke="#2a4a8a" stroke-width="0.8" fill="none"/><circle cx="656.5" cy="324.7" r="2.1" stroke="#2a4a8a" stroke-width="0.8" fill="none"/><circle cx="674.0" cy="319.8" r="2.1" stroke="#2a4a8a" stroke-width="0.8" fill="none"/><circle cx="691.4" cy="321.6" r="2.1" stroke="#2a4a8a" stroke-width="0.8" fill="none"/><circle cx="708.9" cy="325.9" r="2.1" stroke="#2a4a8a" stroke-width="0.8" fill="none"/><circle cx="726.4" cy="319.8" r="2.1" stroke="#2a4a8a" stroke-width="0.8" fill="none"/><circle cx="743.8" cy="324.2" r="2.1" stroke="#2a4a8a" stroke-width="0.8" fill="none"/><circle cx="761.3" cy="327.4" r="2.1" stroke="#2a4a8a" stroke-width="0.8" fill="none"/><circle cx="778.7" cy="322.6" r="2.1" stroke="#2a4a8a" stroke-width="0.8" fill="none"/>
<path d="M534.3 306.0 L551.8 301.1 L569.2 308.0 L586.7 318.9 L604.1 322.2 L621.6 322.0 L639.1 316.7 L656.5 319.1 L674.0 318.8 L691.4 322.2 L708.9 322.9 L726.4 317.0 L743.8 320.4 L761.3 324.7 L778.7 317.4" stroke="#4a2a7a" stroke-width="1.1" fill="none"/>
<circle cx="534.3" cy="306.0" r="2.1" stroke="#4a2a7a" stroke-width="0.8" fill="none"/><circle cx="551.8" cy="301.1" r="2.1" stroke="#4a2a7a" stroke-width="0.8" fill="none"/><circle cx="569.2" cy="308.0" r="2.1" stroke="#4a2a7a" stroke-width="0.8" fill="none"/><circle cx="586.7" cy="318.9" r="2.1" stroke="#4a2a7a" stroke-width="0.8" fill="none"/><circle cx="604.1" cy="322.2" r="2.1" stroke="#4a2a7a" stroke-width="0.8" fill="none"/><circle cx="621.6" cy="322.0" r="2.1" stroke="#4a2a7a" stroke-width="0.8" fill="none"/><circle cx="639.1" cy="316.7" r="2.1" stroke="#4a2a7a" stroke-width="0.8" fill="none"/><circle cx="656.5" cy="319.1" r="2.1" stroke="#4a2a7a" stroke-width="0.8" fill="none"/><circle cx="674.0" cy="318.8" r="2.1" stroke="#4a2a7a" stroke-width="0.8" fill="none"/><circle cx="691.4" cy="322.2" r="2.1" stroke="#4a2a7a" stroke-width="0.8" fill="none"/><circle cx="708.9" cy="322.9" r="2.1" stroke="#4a2a7a" stroke-width="0.8" fill="none"/><circle cx="726.4" cy="317.0" r="2.1" stroke="#4a2a7a" stroke-width="0.8" fill="none"/><circle cx="743.8" cy="320.4" r="2.1" stroke="#4a2a7a" stroke-width="0.8" fill="none"/><circle cx="761.3" cy="324.7" r="2.1" stroke="#4a2a7a" stroke-width="0.8" fill="none"/><circle cx="778.7" cy="317.4" r="2.1" stroke="#4a2a7a" stroke-width="0.8" fill="none"/>
<path d="M534.3 312.4 L551.8 304.9 L569.2 310.9 L586.7 321.4 L604.1 325.2 L621.6 324.2 L639.1 320.9 L656.5 323.1 L674.0 320.7 L691.4 323.5 L708.9 325.3 L726.4 318.3 L743.8 322.8 L761.3 327.2 L778.7 321.7" stroke="#4a2a7a" stroke-width="1.1" fill="none"/>
<circle cx="534.3" cy="312.4" r="2.1" stroke="#4a2a7a" stroke-width="0.8" fill="none"/><circle cx="551.8" cy="304.9" r="2.1" stroke="#4a2a7a" stroke-width="0.8" fill="none"/><circle cx="569.2" cy="310.9" r="2.1" stroke="#4a2a7a" stroke-width="0.8" fill="none"/><circle cx="586.7" cy="321.4" r="2.1" stroke="#4a2a7a" stroke-width="0.8" fill="none"/><circle cx="604.1" cy="325.2" r="2.1" stroke="#4a2a7a" stroke-width="0.8" fill="none"/><circle cx="621.6" cy="324.2" r="2.1" stroke="#4a2a7a" stroke-width="0.8" fill="none"/><circle cx="639.1" cy="320.9" r="2.1" stroke="#4a2a7a" stroke-width="0.8" fill="none"/><circle cx="656.5" cy="323.1" r="2.1" stroke="#4a2a7a" stroke-width="0.8" fill="none"/><circle cx="674.0" cy="320.7" r="2.1" stroke="#4a2a7a" stroke-width="0.8" fill="none"/><circle cx="691.4" cy="323.5" r="2.1" stroke="#4a2a7a" stroke-width="0.8" fill="none"/><circle cx="708.9" cy="325.3" r="2.1" stroke="#4a2a7a" stroke-width="0.8" fill="none"/><circle cx="726.4" cy="318.3" r="2.1" stroke="#4a2a7a" stroke-width="0.8" fill="none"/><circle cx="743.8" cy="322.8" r="2.1" stroke="#4a2a7a" stroke-width="0.8" fill="none"/><circle cx="761.3" cy="327.2" r="2.1" stroke="#4a2a7a" stroke-width="0.8" fill="none"/><circle cx="778.7" cy="321.7" r="2.1" stroke="#4a2a7a" stroke-width="0.8" fill="none"/>
<path d="M534.3 308.0 L551.8 298.7 L569.2 307.5 L586.7 320.2 L604.1 323.4 L621.6 321.2 L639.1 317.9 L656.5 319.7 L674.0 318.5 L691.4 320.2 L708.9 322.2 L726.4 316.3 L743.8 320.1 L761.3 323.4 L778.7 318.2" stroke="#8a3050" stroke-width="1.1" fill="none"/>
<circle cx="534.3" cy="308.0" r="2.1" stroke="#8a3050" stroke-width="0.8" fill="none"/><circle cx="551.8" cy="298.7" r="2.1" stroke="#8a3050" stroke-width="0.8" fill="none"/><circle cx="569.2" cy="307.5" r="2.1" stroke="#8a3050" stroke-width="0.8" fill="none"/><circle cx="586.7" cy="320.2" r="2.1" stroke="#8a3050" stroke-width="0.8" fill="none"/><circle cx="604.1" cy="323.4" r="2.1" stroke="#8a3050" stroke-width="0.8" fill="none"/><circle cx="621.6" cy="321.2" r="2.1" stroke="#8a3050" stroke-width="0.8" fill="none"/><circle cx="639.1" cy="317.9" r="2.1" stroke="#8a3050" stroke-width="0.8" fill="none"/><circle cx="656.5" cy="319.7" r="2.1" stroke="#8a3050" stroke-width="0.8" fill="none"/><circle cx="674.0" cy="318.5" r="2.1" stroke="#8a3050" stroke-width="0.8" fill="none"/><circle cx="691.4" cy="320.2" r="2.1" stroke="#8a3050" stroke-width="0.8" fill="none"/><circle cx="708.9" cy="322.2" r="2.1" stroke="#8a3050" stroke-width="0.8" fill="none"/><circle cx="726.4" cy="316.3" r="2.1" stroke="#8a3050" stroke-width="0.8" fill="none"/><circle cx="743.8" cy="320.1" r="2.1" stroke="#8a3050" stroke-width="0.8" fill="none"/><circle cx="761.3" cy="323.4" r="2.1" stroke="#8a3050" stroke-width="0.8" fill="none"/><circle cx="778.7" cy="318.2" r="2.1" stroke="#8a3050" stroke-width="0.8" fill="none"/>
<path d="M534.3 309.7 L551.8 302.6 L569.2 309.6 L586.7 322.4 L604.1 322.9 L621.6 321.8 L639.1 320.4 L656.5 321.0 L674.0 318.4 L691.4 321.0 L708.9 325.6 L726.4 321.1 L743.8 322.6 L761.3 327.6 L778.7 321.8" stroke="#7a2a6a" stroke-width="1.1" fill="none"/>
<circle cx="534.3" cy="309.7" r="2.1" stroke="#7a2a6a" stroke-width="0.8" fill="none"/><circle cx="551.8" cy="302.6" r="2.1" stroke="#7a2a6a" stroke-width="0.8" fill="none"/><circle cx="569.2" cy="309.6" r="2.1" stroke="#7a2a6a" stroke-width="0.8" fill="none"/><circle cx="586.7" cy="322.4" r="2.1" stroke="#7a2a6a" stroke-width="0.8" fill="none"/><circle cx="604.1" cy="322.9" r="2.1" stroke="#7a2a6a" stroke-width="0.8" fill="none"/><circle cx="621.6" cy="321.8" r="2.1" stroke="#7a2a6a" stroke-width="0.8" fill="none"/><circle cx="639.1" cy="320.4" r="2.1" stroke="#7a2a6a" stroke-width="0.8" fill="none"/><circle cx="656.5" cy="321.0" r="2.1" stroke="#7a2a6a" stroke-width="0.8" fill="none"/><circle cx="674.0" cy="318.4" r="2.1" stroke="#7a2a6a" stroke-width="0.8" fill="none"/><circle cx="691.4" cy="321.0" r="2.1" stroke="#7a2a6a" stroke-width="0.8" fill="none"/><circle cx="708.9" cy="325.6" r="2.1" stroke="#7a2a6a" stroke-width="0.8" fill="none"/><circle cx="726.4" cy="321.1" r="2.1" stroke="#7a2a6a" stroke-width="0.8" fill="none"/><circle cx="743.8" cy="322.6" r="2.1" stroke="#7a2a6a" stroke-width="0.8" fill="none"/><circle cx="761.3" cy="327.6" r="2.1" stroke="#7a2a6a" stroke-width="0.8" fill="none"/><circle cx="778.7" cy="321.8" r="2.1" stroke="#7a2a6a" stroke-width="0.8" fill="none"/>
<path d="M534.3 310.4 L551.8 299.9 L569.2 310.8 L586.7 319.4 L604.1 322.5 L621.6 321.3 L639.1 317.8 L656.5 320.0 L674.0 318.2 L691.4 321.6 L708.9 322.0 L726.4 319.4 L743.8 321.0 L761.3 326.1 L778.7 319.0" stroke="#2a4a8a" stroke-width="1.1" fill="none"/>
<circle cx="534.3" cy="310.4" r="2.1" stroke="#2a4a8a" stroke-width="0.8" fill="none"/><circle cx="551.8" cy="299.9" r="2.1" stroke="#2a4a8a" stroke-width="0.8" fill="none"/><circle cx="569.2" cy="310.8" r="2.1" stroke="#2a4a8a" stroke-width="0.8" fill="none"/><circle cx="586.7" cy="319.4" r="2.1" stroke="#2a4a8a" stroke-width="0.8" fill="none"/><circle cx="604.1" cy="322.5" r="2.1" stroke="#2a4a8a" stroke-width="0.8" fill="none"/><circle cx="621.6" cy="321.3" r="2.1" stroke="#2a4a8a" stroke-width="0.8" fill="none"/><circle cx="639.1" cy="317.8" r="2.1" stroke="#2a4a8a" stroke-width="0.8" fill="none"/><circle cx="656.5" cy="320.0" r="2.1" stroke="#2a4a8a" stroke-width="0.8" fill="none"/><circle cx="674.0" cy="318.2" r="2.1" stroke="#2a4a8a" stroke-width="0.8" fill="none"/><circle cx="691.4" cy="321.6" r="2.1" stroke="#2a4a8a" stroke-width="0.8" fill="none"/><circle cx="708.9" cy="322.0" r="2.1" stroke="#2a4a8a" stroke-width="0.8" fill="none"/><circle cx="726.4" cy="319.4" r="2.1" stroke="#2a4a8a" stroke-width="0.8" fill="none"/><circle cx="743.8" cy="321.0" r="2.1" stroke="#2a4a8a" stroke-width="0.8" fill="none"/><circle cx="761.3" cy="326.1" r="2.1" stroke="#2a4a8a" stroke-width="0.8" fill="none"/><circle cx="778.7" cy="319.0" r="2.1" stroke="#2a4a8a" stroke-width="0.8" fill="none"/>
<path d="M534.3 307.4 L551.8 301.7 L569.2 311.0 L586.7 321.5 L604.1 321.2 L621.6 322.3 L639.1 316.8 L656.5 319.9 L674.0 319.7 L691.4 322.7 L708.9 322.7 L726.4 319.0 L743.8 322.3 L761.3 325.4 L778.7 319.9" stroke="#6a3a8a" stroke-width="1.1" fill="none"/>
<circle cx="534.3" cy="307.4" r="2.1" stroke="#6a3a8a" stroke-width="0.8" fill="none"/><circle cx="551.8" cy="301.7" r="2.1" stroke="#6a3a8a" stroke-width="0.8" fill="none"/><circle cx="569.2" cy="311.0" r="2.1" stroke="#6a3a8a" stroke-width="0.8" fill="none"/><circle cx="586.7" cy="321.5" r="2.1" stroke="#6a3a8a" stroke-width="0.8" fill="none"/><circle cx="604.1" cy="321.2" r="2.1" stroke="#6a3a8a" stroke-width="0.8" fill="none"/><circle cx="621.6" cy="322.3" r="2.1" stroke="#6a3a8a" stroke-width="0.8" fill="none"/><circle cx="639.1" cy="316.8" r="2.1" stroke="#6a3a8a" stroke-width="0.8" fill="none"/><circle cx="656.5" cy="319.9" r="2.1" stroke="#6a3a8a" stroke-width="0.8" fill="none"/><circle cx="674.0" cy="319.7" r="2.1" stroke="#6a3a8a" stroke-width="0.8" fill="none"/><circle cx="691.4" cy="322.7" r="2.1" stroke="#6a3a8a" stroke-width="0.8" fill="none"/><circle cx="708.9" cy="322.7" r="2.1" stroke="#6a3a8a" stroke-width="0.8" fill="none"/><circle cx="726.4" cy="319.0" r="2.1" stroke="#6a3a8a" stroke-width="0.8" fill="none"/><circle cx="743.8" cy="322.3" r="2.1" stroke="#6a3a8a" stroke-width="0.8" fill="none"/><circle cx="761.3" cy="325.4" r="2.1" stroke="#6a3a8a" stroke-width="0.8" fill="none"/><circle cx="778.7" cy="319.9" r="2.1" stroke="#6a3a8a" stroke-width="0.8" fill="none"/>
<path d="M534.3 312.0 L551.8 302.2 L569.2 312.2 L586.7 322.3 L604.1 324.9 L621.6 324.4 L639.1 316.7 L656.5 322.7 L674.0 317.9 L691.4 323.4 L708.9 324.3 L726.4 320.4 L743.8 323.1 L761.3 326.7 L778.7 320.0" stroke="#4a2a7a" stroke-width="1.1" fill="none"/>
<circle cx="534.3" cy="312.0" r="2.1" stroke="#4a2a7a" stroke-width="0.8" fill="none"/><circle cx="551.8" cy="302.2" r="2.1" stroke="#4a2a7a" stroke-width="0.8" fill="none"/><circle cx="569.2" cy="312.2" r="2.1" stroke="#4a2a7a" stroke-width="0.8" fill="none"/><circle cx="586.7" cy="322.3" r="2.1" stroke="#4a2a7a" stroke-width="0.8" fill="none"/><circle cx="604.1" cy="324.9" r="2.1" stroke="#4a2a7a" stroke-width="0.8" fill="none"/><circle cx="621.6" cy="324.4" r="2.1" stroke="#4a2a7a" stroke-width="0.8" fill="none"/><circle cx="639.1" cy="316.7" r="2.1" stroke="#4a2a7a" stroke-width="0.8" fill="none"/><circle cx="656.5" cy="322.7" r="2.1" stroke="#4a2a7a" stroke-width="0.8" fill="none"/><circle cx="674.0" cy="317.9" r="2.1" stroke="#4a2a7a" stroke-width="0.8" fill="none"/><circle cx="691.4" cy="323.4" r="2.1" stroke="#4a2a7a" stroke-width="0.8" fill="none"/><circle cx="708.9" cy="324.3" r="2.1" stroke="#4a2a7a" stroke-width="0.8" fill="none"/><circle cx="726.4" cy="320.4" r="2.1" stroke="#4a2a7a" stroke-width="0.8" fill="none"/><circle cx="743.8" cy="323.1" r="2.1" stroke="#4a2a7a" stroke-width="0.8" fill="none"/><circle cx="761.3" cy="326.7" r="2.1" stroke="#4a2a7a" stroke-width="0.8" fill="none"/><circle cx="778.7" cy="320.0" r="2.1" stroke="#4a2a7a" stroke-width="0.8" fill="none"/>
<path d="M534.3 311.3 L551.8 302.8 L569.2 310.9 L586.7 322.4 L604.1 322.6 L621.6 322.8 L639.1 318.6 L656.5 322.2 L674.0 318.5 L691.4 321.4 L708.9 324.5 L726.4 319.6 L743.8 321.4 L761.3 325.4 L778.7 321.5" stroke="#4a2a7a" stroke-width="1.1" fill="none"/>
<circle cx="534.3" cy="311.3" r="2.1" stroke="#4a2a7a" stroke-width="0.8" fill="none"/><circle cx="551.8" cy="302.8" r="2.1" stroke="#4a2a7a" stroke-width="0.8" fill="none"/><circle cx="569.2" cy="310.9" r="2.1" stroke="#4a2a7a" stroke-width="0.8" fill="none"/><circle cx="586.7" cy="322.4" r="2.1" stroke="#4a2a7a" stroke-width="0.8" fill="none"/><circle cx="604.1" cy="322.6" r="2.1" stroke="#4a2a7a" stroke-width="0.8" fill="none"/><circle cx="621.6" cy="322.8" r="2.1" stroke="#4a2a7a" stroke-width="0.8" fill="none"/><circle cx="639.1" cy="318.6" r="2.1" stroke="#4a2a7a" stroke-width="0.8" fill="none"/><circle cx="656.5" cy="322.2" r="2.1" stroke="#4a2a7a" stroke-width="0.8" fill="none"/><circle cx="674.0" cy="318.5" r="2.1" stroke="#4a2a7a" stroke-width="0.8" fill="none"/><circle cx="691.4" cy="321.4" r="2.1" stroke="#4a2a7a" stroke-width="0.8" fill="none"/><circle cx="708.9" cy="324.5" r="2.1" stroke="#4a2a7a" stroke-width="0.8" fill="none"/><circle cx="726.4" cy="319.6" r="2.1" stroke="#4a2a7a" stroke-width="0.8" fill="none"/><circle cx="743.8" cy="321.4" r="2.1" stroke="#4a2a7a" stroke-width="0.8" fill="none"/><circle cx="761.3" cy="325.4" r="2.1" stroke="#4a2a7a" stroke-width="0.8" fill="none"/><circle cx="778.7" cy="321.5" r="2.1" stroke="#4a2a7a" stroke-width="0.8" fill="none"/>
<path d="M534.3 308.8 L551.8 302.1 L569.2 310.4 L586.7 320.5 L604.1 324.2 L621.6 321.3 L639.1 318.6 L656.5 320.9 L674.0 317.6 L691.4 322.9 L708.9 322.9 L726.4 317.2 L743.8 323.2 L761.3 326.9 L778.7 321.6" stroke="#8a4a5a" stroke-width="1.1" fill="none"/>
<circle cx="534.3" cy="308.8" r="2.1" stroke="#8a4a5a" stroke-width="0.8" fill="none"/><circle cx="551.8" cy="302.1" r="2.1" stroke="#8a4a5a" stroke-width="0.8" fill="none"/><circle cx="569.2" cy="310.4" r="2.1" stroke="#8a4a5a" stroke-width="0.8" fill="none"/><circle cx="586.7" cy="320.5" r="2.1" stroke="#8a4a5a" stroke-width="0.8" fill="none"/><circle cx="604.1" cy="324.2" r="2.1" stroke="#8a4a5a" stroke-width="0.8" fill="none"/><circle cx="621.6" cy="321.3" r="2.1" stroke="#8a4a5a" stroke-width="0.8" fill="none"/><circle cx="639.1" cy="318.6" r="2.1" stroke="#8a4a5a" stroke-width="0.8" fill="none"/><circle cx="656.5" cy="320.9" r="2.1" stroke="#8a4a5a" stroke-width="0.8" fill="none"/><circle cx="674.0" cy="317.6" r="2.1" stroke="#8a4a5a" stroke-width="0.8" fill="none"/><circle cx="691.4" cy="322.9" r="2.1" stroke="#8a4a5a" stroke-width="0.8" fill="none"/><circle cx="708.9" cy="322.9" r="2.1" stroke="#8a4a5a" stroke-width="0.8" fill="none"/><circle cx="726.4" cy="317.2" r="2.1" stroke="#8a4a5a" stroke-width="0.8" fill="none"/><circle cx="743.8" cy="323.2" r="2.1" stroke="#8a4a5a" stroke-width="0.8" fill="none"/><circle cx="761.3" cy="326.9" r="2.1" stroke="#8a4a5a" stroke-width="0.8" fill="none"/><circle cx="778.7" cy="321.6" r="2.1" stroke="#8a4a5a" stroke-width="0.8" fill="none"/>
<path d="M534.3 310.2 L551.8 299.9 L569.2 311.9 L586.7 321.5 L604.1 324.4 L621.6 321.3 L639.1 316.8 L656.5 322.5 L674.0 317.9 L691.4 320.7 L708.9 324.6 L726.4 319.4 L743.8 322.5 L761.3 324.3 L778.7 321.4" stroke="#2a3a7a" stroke-width="1.1" fill="none"/>
<circle cx="534.3" cy="310.2" r="2.1" stroke="#2a3a7a" stroke-width="0.8" fill="none"/><circle cx="551.8" cy="299.9" r="2.1" stroke="#2a3a7a" stroke-width="0.8" fill="none"/><circle cx="569.2" cy="311.9" r="2.1" stroke="#2a3a7a" stroke-width="0.8" fill="none"/><circle cx="586.7" cy="321.5" r="2.1" stroke="#2a3a7a" stroke-width="0.8" fill="none"/><circle cx="604.1" cy="324.4" r="2.1" stroke="#2a3a7a" stroke-width="0.8" fill="none"/><circle cx="621.6" cy="321.3" r="2.1" stroke="#2a3a7a" stroke-width="0.8" fill="none"/><circle cx="639.1" cy="316.8" r="2.1" stroke="#2a3a7a" stroke-width="0.8" fill="none"/><circle cx="656.5" cy="322.5" r="2.1" stroke="#2a3a7a" stroke-width="0.8" fill="none"/><circle cx="674.0" cy="317.9" r="2.1" stroke="#2a3a7a" stroke-width="0.8" fill="none"/><circle cx="691.4" cy="320.7" r="2.1" stroke="#2a3a7a" stroke-width="0.8" fill="none"/><circle cx="708.9" cy="324.6" r="2.1" stroke="#2a3a7a" stroke-width="0.8" fill="none"/><circle cx="726.4" cy="319.4" r="2.1" stroke="#2a3a7a" stroke-width="0.8" fill="none"/><circle cx="743.8" cy="322.5" r="2.1" stroke="#2a3a7a" stroke-width="0.8" fill="none"/><circle cx="761.3" cy="324.3" r="2.1" stroke="#2a3a7a" stroke-width="0.8" fill="none"/><circle cx="778.7" cy="321.4" r="2.1" stroke="#2a3a7a" stroke-width="0.8" fill="none"/>
<circle cx="534.3" cy="288.6" r="2.3" stroke="#9a9aa8" stroke-width="0.9" fill="none"/>
<circle cx="534.3" cy="291.5" r="2.3" stroke="#9a9aa8" stroke-width="0.9" fill="none"/>
<circle cx="534.3" cy="327.7" r="2.3" stroke="#9a9aa8" stroke-width="0.9" fill="none"/>
<path d="M551.8 293.0 L569.2 283.4 L586.7 312.9" stroke="#8a8aa0" stroke-width="0.9" fill="none"/>
<circle cx="569.2" cy="283.4" r="2.3" stroke="#8a8aa0" stroke-width="0.9" fill="none"/>
<path d="M569.2 301.1 L586.7 220.7 L604.1 217.0 L621.6 242.8 L639.1 231.0 L656.5 218.4 L674.0 246.5 L691.4 210.3 L708.9 199.3 L726.4 186.0 L743.8 241.7 L761.3 217.0 L778.7 208.1" stroke="#a6ae44" stroke-width="1.25" fill="none"/>
<circle cx="586.7" cy="220.7" r="2.4" stroke="#a6ae44" stroke-width="1.1" fill="none"/><circle cx="604.1" cy="217.0" r="2.4" stroke="#a6ae44" stroke-width="1.1" fill="none"/><circle cx="621.6" cy="242.8" r="2.4" stroke="#a6ae44" stroke-width="1.1" fill="none"/><circle cx="639.1" cy="231.0" r="2.4" stroke="#a6ae44" stroke-width="1.1" fill="none"/><circle cx="656.5" cy="218.4" r="2.4" stroke="#a6ae44" stroke-width="1.1" fill="none"/><circle cx="674.0" cy="246.5" r="2.4" stroke="#a6ae44" stroke-width="1.1" fill="none"/><circle cx="691.4" cy="210.3" r="2.4" stroke="#a6ae44" stroke-width="1.1" fill="none"/><circle cx="708.9" cy="199.3" r="2.4" stroke="#a6ae44" stroke-width="1.1" fill="none"/><circle cx="726.4" cy="186.0" r="2.4" stroke="#a6ae44" stroke-width="1.1" fill="none"/><circle cx="743.8" cy="241.7" r="2.4" stroke="#a6ae44" stroke-width="1.1" fill="none"/><circle cx="761.3" cy="217.0" r="2.4" stroke="#a6ae44" stroke-width="1.1" fill="none"/><circle cx="778.7" cy="208.1" r="2.4" stroke="#a6ae44" stroke-width="1.1" fill="none"/>
<path d="M534.3 168.5 L778.8 168.5 L778.8 353.5 L534.3 353.5 Z" stroke="#555" stroke-width="1" fill="none"/>
<path d="M534.3 316.6 h2.5 M778.8 316.6 h-2.5 M534.3 279.7 h2.5 M778.8 279.7 h-2.5 M534.3 242.8 h2.5 M778.8 242.8 h-2.5 M534.3 205.9 h2.5 M778.8 205.9 h-2.5 M551.8 353.5 v-2.5 M551.8 168.5 v2.5 M586.7 353.5 v-2.5 M586.7 168.5 v2.5 M621.6 353.5 v-2.5 M621.6 168.5 v2.5 M656.5 353.5 v-2.5 M656.5 168.5 v2.5 M691.4 353.5 v-2.5 M691.4 168.5 v2.5 M726.4 353.5 v-2.5 M726.4 168.5 v2.5 M761.3 353.5 v-2.5 M761.3 168.5 v2.5" stroke="#555" stroke-width="0.9" fill="none"/>
<text x="530.3" y="358.4" font-size="12.70" text-anchor="end" fill="#1a1a1a"  stroke="#1a1a1a" stroke-width="0.30">0</text>
<text x="530.3" y="321.5" font-size="12.70" text-anchor="end" fill="#1a1a1a"  stroke="#1a1a1a" stroke-width="0.30">0.5</text>
<text x="530.3" y="284.6" font-size="12.70" text-anchor="end" fill="#1a1a1a"  stroke="#1a1a1a" stroke-width="0.30">1</text>
<text x="530.3" y="247.7" font-size="12.70" text-anchor="end" fill="#1a1a1a"  stroke="#1a1a1a" stroke-width="0.30">1.5</text>
<text x="530.3" y="210.8" font-size="12.70" text-anchor="end" fill="#1a1a1a"  stroke="#1a1a1a" stroke-width="0.30">2</text>
<text x="530.3" y="173.9" font-size="12.70" text-anchor="end" fill="#1a1a1a"  stroke="#1a1a1a" stroke-width="0.30">2.5</text>
<text x="551.8" y="368.6" font-size="12.20" text-anchor="middle" fill="#1a1a1a"  stroke="#1a1a1a" stroke-width="0.30">2</text>
<text x="586.7" y="368.6" font-size="12.20" text-anchor="middle" fill="#1a1a1a"  stroke="#1a1a1a" stroke-width="0.30">4</text>
<text x="621.6" y="368.6" font-size="12.20" text-anchor="middle" fill="#1a1a1a"  stroke="#1a1a1a" stroke-width="0.30">6</text>
<text x="656.5" y="368.6" font-size="12.20" text-anchor="middle" fill="#1a1a1a"  stroke="#1a1a1a" stroke-width="0.30">8</text>
<text x="691.4" y="368.6" font-size="12.20" text-anchor="middle" fill="#1a1a1a"  stroke="#1a1a1a" stroke-width="0.30">10</text>
<text x="726.4" y="368.6" font-size="12.20" text-anchor="middle" fill="#1a1a1a"  stroke="#1a1a1a" stroke-width="0.30">12</text>
<text x="761.3" y="368.6" font-size="12.20" text-anchor="middle" fill="#1a1a1a"  stroke="#1a1a1a" stroke-width="0.30">14</text>
<text x="655.8" y="379.6" font-size="12.00" text-anchor="middle" fill="#1a1a1a"  stroke="#1a1a1a" stroke-width="0.30">Samples</text>
<text transform="translate(510.6 256.6) rotate(-90)" font-size="13.2" text-anchor="middle" fill="#1a1a1a" stroke="#1a1a1a" stroke-width="0.3">Cell resistances/mΩ</text>
<text x="629.5" y="200.0" font-size="11.80" text-anchor="start" fill="#a6ae44"  stroke="#a6ae44" stroke-width="0.30">Cell 48</text>
<line x1="668.0" y1="203.5" x2="681.7" y2="213.4" stroke="#a6ae44" stroke-width="1.2"/><path d="M684.5 215.5 L679.0 214.5 L681.9 210.6 Z" fill="#a6ae44"/>
</svg>
<div class="abs" id="cite">Zheng Y, Ouyang M, Lu L, et al. Applied energy, 2013, 111: 571-580. Zheng Y, Han X, Lu L, et al. Journal of Power Sources, 2013, 223: 136-146.<br><span style="letter-spacing:-0.015px">Ouyang M, Zhang M, Feng X, et al. Journal of Power Sources, 2015, 294: 272-283.</span></div>
<div class="abs" id="pnum">23</div>
</body></html>
